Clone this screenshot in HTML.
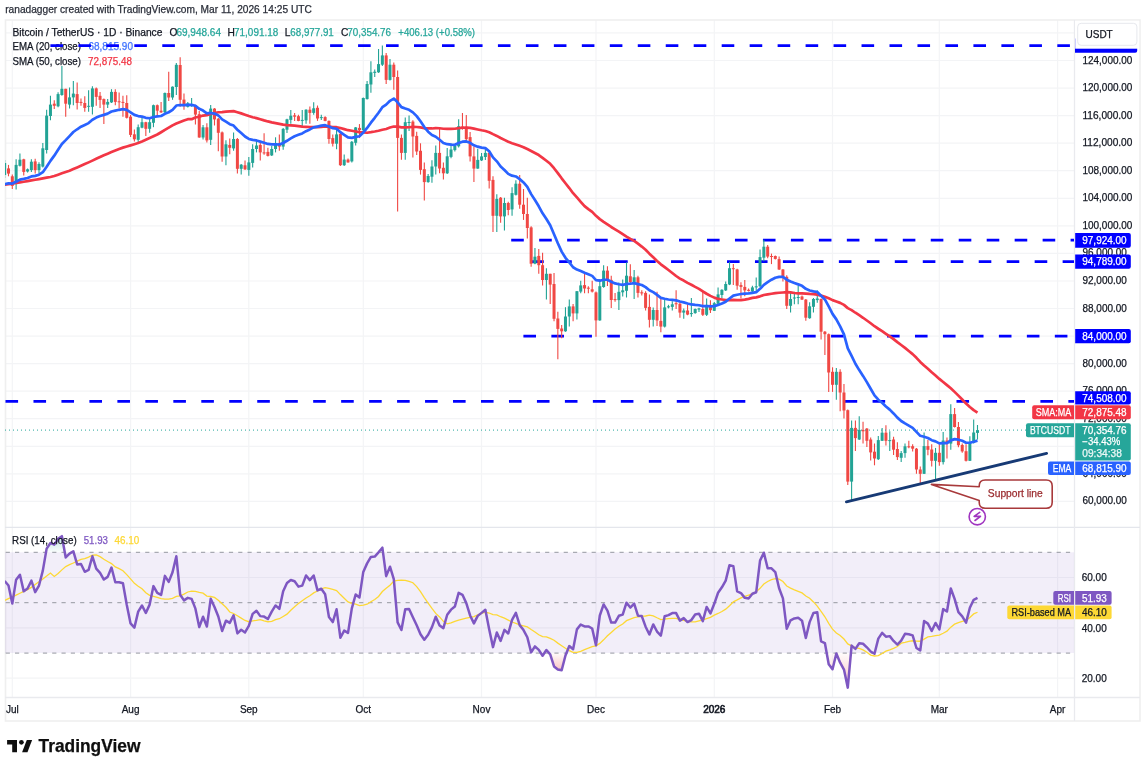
<!DOCTYPE html><html><head><meta charset="utf-8"><style>
html,body{margin:0;padding:0;background:#fff;}
body{width:1148px;height:772px;overflow:hidden;position:relative;font-family:"Liberation Sans", sans-serif;}
svg text{font-family:"Liberation Sans", sans-serif;}
</style></head><body>
<svg width="1148" height="772" viewBox="0 0 1148 772" style="position:absolute;left:0;top:0;will-change:transform">
<defs>
<clipPath id="mainclip"><rect x="5" y="20" width="1069" height="507"/></clipPath>
<clipPath id="rsiclip"><rect x="5" y="528" width="1069" height="169"/></clipPath>
<linearGradient id="osg" x1="0" y1="0" x2="0" y2="1"><stop offset="0" stop-color="#ef5350" stop-opacity="0.02"/><stop offset="1" stop-color="#ef5350" stop-opacity="0.35"/></linearGradient>
<linearGradient id="obg" x1="0" y1="1" x2="0" y2="0"><stop offset="0" stop-color="#26a69a" stop-opacity="0.02"/><stop offset="1" stop-color="#26a69a" stop-opacity="0.3"/></linearGradient>
</defs>
<rect width="1148" height="772" fill="#fff"/>

<text x="5.2" y="12.9" font-size="10.4" fill="#2a2e39" stroke="#2a2e39" stroke-width="0.25" textLength="306.6" lengthAdjust="spacingAndGlyphs">ranadagger created with TradingView.com, Mar 11, 2026 14:25 UTC</text>
<line x1="12.3" y1="20" x2="12.3" y2="697" stroke="#f3f4f6" stroke-width="1.2"/>
<line x1="130.6" y1="20" x2="130.6" y2="697" stroke="#f3f4f6" stroke-width="1.2"/>
<line x1="248.8" y1="20" x2="248.8" y2="697" stroke="#f3f4f6" stroke-width="1.2"/>
<line x1="363.3" y1="20" x2="363.3" y2="697" stroke="#f3f4f6" stroke-width="1.2"/>
<line x1="481.5" y1="20" x2="481.5" y2="697" stroke="#f3f4f6" stroke-width="1.2"/>
<line x1="596.0" y1="20" x2="596.0" y2="697" stroke="#f3f4f6" stroke-width="1.2"/>
<line x1="714.3" y1="20" x2="714.3" y2="697" stroke="#f3f4f6" stroke-width="1.2"/>
<line x1="832.5" y1="20" x2="832.5" y2="697" stroke="#f3f4f6" stroke-width="1.2"/>
<line x1="939.3" y1="20" x2="939.3" y2="697" stroke="#f3f4f6" stroke-width="1.2"/>
<line x1="1057.6" y1="20" x2="1057.6" y2="697" stroke="#f3f4f6" stroke-width="1.2"/>
<line x1="5" y1="501.4" x2="1074" y2="501.4" stroke="#f3f4f6" stroke-width="1.2"/>
<line x1="5" y1="473.8" x2="1074" y2="473.8" stroke="#f3f4f6" stroke-width="1.2"/>
<line x1="5" y1="446.3" x2="1074" y2="446.3" stroke="#f3f4f6" stroke-width="1.2"/>
<line x1="5" y1="418.7" x2="1074" y2="418.7" stroke="#f3f4f6" stroke-width="1.2"/>
<line x1="5" y1="391.2" x2="1074" y2="391.2" stroke="#f3f4f6" stroke-width="1.2"/>
<line x1="5" y1="363.6" x2="1074" y2="363.6" stroke="#f3f4f6" stroke-width="1.2"/>
<line x1="5" y1="336.1" x2="1074" y2="336.1" stroke="#f3f4f6" stroke-width="1.2"/>
<line x1="5" y1="308.5" x2="1074" y2="308.5" stroke="#f3f4f6" stroke-width="1.2"/>
<line x1="5" y1="281.0" x2="1074" y2="281.0" stroke="#f3f4f6" stroke-width="1.2"/>
<line x1="5" y1="253.4" x2="1074" y2="253.4" stroke="#f3f4f6" stroke-width="1.2"/>
<line x1="5" y1="225.8" x2="1074" y2="225.8" stroke="#f3f4f6" stroke-width="1.2"/>
<line x1="5" y1="198.3" x2="1074" y2="198.3" stroke="#f3f4f6" stroke-width="1.2"/>
<line x1="5" y1="170.7" x2="1074" y2="170.7" stroke="#f3f4f6" stroke-width="1.2"/>
<line x1="5" y1="143.2" x2="1074" y2="143.2" stroke="#f3f4f6" stroke-width="1.2"/>
<line x1="5" y1="115.6" x2="1074" y2="115.6" stroke="#f3f4f6" stroke-width="1.2"/>
<line x1="5" y1="88.1" x2="1074" y2="88.1" stroke="#f3f4f6" stroke-width="1.2"/>
<line x1="5" y1="60.5" x2="1074" y2="60.5" stroke="#f3f4f6" stroke-width="1.2"/>
<line x1="5" y1="32.9" x2="1074" y2="32.9" stroke="#f3f4f6" stroke-width="1.2"/>
<line x1="5" y1="678.2" x2="1074" y2="678.2" stroke="#f3f4f6" stroke-width="1.2"/>
<line x1="5" y1="627.9" x2="1074" y2="627.9" stroke="#f3f4f6" stroke-width="1.2"/>
<line x1="5" y1="577.5" x2="1074" y2="577.5" stroke="#f3f4f6" stroke-width="1.2"/>
<rect x="5.5" y="20" width="1134.5" height="701" fill="none" stroke="#efefef" stroke-width="1.6"/>
<line x1="5" y1="527.4" x2="1140" y2="527.4" stroke="#e4e6ec" stroke-width="1.4"/>
<line x1="5" y1="697.5" x2="1140" y2="697.5" stroke="#e9eaee" stroke-width="1.4"/>
<line x1="1074.5" y1="20" x2="1074.5" y2="721" stroke="#e9eaee" stroke-width="1.3"/>
<text x="12.5" y="35.8" font-size="10.4" fill="#131722" stroke="#131722" stroke-width="0.25" textLength="149.9" lengthAdjust="spacingAndGlyphs">Bitcoin / TetherUS · 1D · Binance</text>
<text x="12.5" y="50.2" font-size="10.2" fill="#131722" stroke="#131722" stroke-width="0.25" textLength="68.4" lengthAdjust="spacingAndGlyphs">EMA (20, close)</text>
<text x="88.4" y="50.2" font-size="10.1" fill="#2962ff" stroke="#2962ff" stroke-width="0.25" textLength="44.6" lengthAdjust="spacingAndGlyphs" fill-opacity="0.8">68,815.90</text>
<text x="12.5" y="64.6" font-size="10.2" fill="#131722" stroke="#131722" stroke-width="0.25" textLength="68.5" lengthAdjust="spacingAndGlyphs">SMA (50, close)</text>
<text x="88.0" y="64.6" font-size="10.1" fill="#f23645" stroke="#f23645" stroke-width="0.25" textLength="43.9" lengthAdjust="spacingAndGlyphs">72,875.48</text>
<text x="169.5" y="35.8" font-size="10.2" fill="#131722" stroke="#131722" stroke-width="0.25">O</text>
<text x="176.4" y="35.8" font-size="10.1" fill="#26a69a" stroke="#26a69a" stroke-width="0.25" textLength="44.6" lengthAdjust="spacingAndGlyphs">69,948.64</text>
<text x="227.6" y="35.8" font-size="10.2" fill="#131722" stroke="#131722" stroke-width="0.25">H</text>
<text x="234.1" y="35.8" font-size="10.1" fill="#26a69a" stroke="#26a69a" stroke-width="0.25" textLength="44.1" lengthAdjust="spacingAndGlyphs">71,091.18</text>
<text x="284.7" y="35.8" font-size="10.2" fill="#131722" stroke="#131722" stroke-width="0.25">L</text>
<text x="290.3" y="35.8" font-size="10.1" fill="#26a69a" stroke="#26a69a" stroke-width="0.25" textLength="43.5" lengthAdjust="spacingAndGlyphs">68,977.91</text>
<text x="340.9" y="35.8" font-size="10.2" fill="#131722" stroke="#131722" stroke-width="0.25">C</text>
<text x="347.2" y="35.8" font-size="10.1" fill="#26a69a" stroke="#26a69a" stroke-width="0.25" textLength="43.9" lengthAdjust="spacingAndGlyphs">70,354.76</text>
<text x="398.3" y="35.8" font-size="10.1" fill="#26a69a" stroke="#26a69a" stroke-width="0.25" textLength="76.7" lengthAdjust="spacingAndGlyphs">+406.13 (+0.58%)</text>
<g clip-path="url(#mainclip)">
<line x1="50.4" y1="45.6" x2="1074" y2="45.6" stroke="#0000ff" stroke-width="2.8" stroke-dasharray="12.6 15.37"/>
<line x1="511.2" y1="240.1" x2="1074" y2="240.1" stroke="#0000ff" stroke-width="2.8" stroke-dasharray="12.6 15.37"/>
<line x1="531.2" y1="261.7" x2="1074" y2="261.7" stroke="#0000ff" stroke-width="2.8" stroke-dasharray="12.6 15.37"/>
<line x1="523.4" y1="336.1" x2="1074" y2="336.1" stroke="#0000ff" stroke-width="2.8" stroke-dasharray="12.6 15.37"/>
<line x1="5.5" y1="401.4" x2="1074" y2="401.4" stroke="#0000ff" stroke-width="2.8" stroke-dasharray="12.6 15.37"/>
<line x1="4.67" y1="160" x2="4.67" y2="178" stroke="#22a395" stroke-width="1.1"/>
<rect x="3.17" y="163" width="3" height="12.0" fill="#22a395"/>
<line x1="8.49" y1="164.9" x2="8.49" y2="176.3" stroke="#f04844" stroke-width="1.1"/>
<rect x="6.99" y="168.4" width="3" height="5.2" fill="#f04844"/>
<line x1="12.30" y1="174.5" x2="12.30" y2="189" stroke="#f04844" stroke-width="1.1"/>
<rect x="10.80" y="176.3" width="3" height="9.6" fill="#f04844"/>
<line x1="16.12" y1="159.3" x2="16.12" y2="189.4" stroke="#22a395" stroke-width="1.1"/>
<rect x="14.62" y="164.9" width="3" height="19.2" fill="#22a395"/>
<line x1="19.93" y1="153.5" x2="19.93" y2="166.6" stroke="#22a395" stroke-width="1.1"/>
<rect x="18.43" y="159.7" width="3" height="6.1" fill="#22a395"/>
<line x1="23.75" y1="158.8" x2="23.75" y2="175.4" stroke="#f04844" stroke-width="1.1"/>
<rect x="22.25" y="159.3" width="3" height="12.6" fill="#f04844"/>
<line x1="27.56" y1="168.5" x2="27.56" y2="172.5" stroke="#22a395" stroke-width="1.1"/>
<rect x="26.06" y="169.3" width="3" height="2.2" fill="#22a395"/>
<line x1="31.38" y1="159.3" x2="31.38" y2="171.9" stroke="#22a395" stroke-width="1.1"/>
<rect x="29.88" y="161.7" width="3" height="8.4" fill="#22a395"/>
<line x1="35.19" y1="158.8" x2="35.19" y2="173.6" stroke="#f04844" stroke-width="1.1"/>
<rect x="33.69" y="161.4" width="3" height="8.7" fill="#f04844"/>
<line x1="39.00" y1="162.3" x2="39.00" y2="173.6" stroke="#22a395" stroke-width="1.1"/>
<rect x="37.50" y="164" width="3" height="6.1" fill="#22a395"/>
<line x1="42.82" y1="143" x2="42.82" y2="167.5" stroke="#22a395" stroke-width="1.1"/>
<rect x="41.32" y="148.3" width="3" height="18.3" fill="#22a395"/>
<line x1="46.64" y1="109.8" x2="46.64" y2="153.5" stroke="#22a395" stroke-width="1.1"/>
<rect x="45.14" y="115.6" width="3" height="34.4" fill="#22a395"/>
<line x1="50.45" y1="95.8" x2="50.45" y2="120.3" stroke="#22a395" stroke-width="1.1"/>
<rect x="48.95" y="104.6" width="3" height="11.4" fill="#22a395"/>
<line x1="54.27" y1="100.2" x2="54.27" y2="109" stroke="#f04844" stroke-width="1.1"/>
<rect x="52.77" y="103.7" width="3" height="2.1" fill="#f04844"/>
<line x1="58.08" y1="92.3" x2="58.08" y2="107.2" stroke="#22a395" stroke-width="1.1"/>
<rect x="56.58" y="94.1" width="3" height="12.2" fill="#22a395"/>
<line x1="61.89" y1="66" x2="61.89" y2="95.8" stroke="#22a395" stroke-width="1.1"/>
<rect x="60.39" y="88.8" width="3" height="6.2" fill="#22a395"/>
<line x1="65.71" y1="88.8" x2="65.71" y2="116.8" stroke="#f04844" stroke-width="1.1"/>
<rect x="64.21" y="88.8" width="3" height="14.9" fill="#f04844"/>
<line x1="69.53" y1="87.5" x2="69.53" y2="108.5" stroke="#22a395" stroke-width="1.1"/>
<rect x="68.03" y="97.4" width="3" height="7.2" fill="#22a395"/>
<line x1="73.34" y1="80.9" x2="73.34" y2="105.2" stroke="#22a395" stroke-width="1.1"/>
<rect x="71.84" y="93.6" width="3" height="3.8" fill="#22a395"/>
<line x1="77.16" y1="82.6" x2="77.16" y2="109.6" stroke="#f04844" stroke-width="1.1"/>
<rect x="75.66" y="94.1" width="3" height="8.9" fill="#f04844"/>
<line x1="80.97" y1="98.5" x2="80.97" y2="105.7" stroke="#f04844" stroke-width="1.1"/>
<rect x="79.47" y="101.9" width="3" height="1.0" fill="#f04844"/>
<line x1="84.78" y1="96.3" x2="84.78" y2="111.8" stroke="#f04844" stroke-width="1.1"/>
<rect x="83.28" y="103" width="3" height="4.9" fill="#f04844"/>
<line x1="88.60" y1="90.3" x2="88.60" y2="111.8" stroke="#22a395" stroke-width="1.1"/>
<rect x="87.10" y="105.8" width="3" height="1.0" fill="#22a395"/>
<line x1="92.41" y1="86.2" x2="92.41" y2="114.5" stroke="#22a395" stroke-width="1.1"/>
<rect x="90.91" y="88.4" width="3" height="18.4" fill="#22a395"/>
<line x1="96.23" y1="87.5" x2="96.23" y2="105.7" stroke="#f04844" stroke-width="1.1"/>
<rect x="94.73" y="88.4" width="3" height="8.5" fill="#f04844"/>
<line x1="100.05" y1="91.9" x2="100.05" y2="107.9" stroke="#f04844" stroke-width="1.1"/>
<rect x="98.55" y="95.8" width="3" height="4.1" fill="#f04844"/>
<line x1="103.86" y1="98.5" x2="103.86" y2="123.9" stroke="#f04844" stroke-width="1.1"/>
<rect x="102.36" y="99.1" width="3" height="5.5" fill="#f04844"/>
<line x1="107.67" y1="99.1" x2="107.67" y2="107.9" stroke="#22a395" stroke-width="1.1"/>
<rect x="106.17" y="101.9" width="3" height="2.7" fill="#22a395"/>
<line x1="111.49" y1="89.2" x2="111.49" y2="103" stroke="#22a395" stroke-width="1.1"/>
<rect x="109.99" y="91.9" width="3" height="10.5" fill="#22a395"/>
<line x1="115.30" y1="89.2" x2="115.30" y2="105.2" stroke="#f04844" stroke-width="1.1"/>
<rect x="113.80" y="91.9" width="3" height="10.0" fill="#f04844"/>
<line x1="119.12" y1="92.5" x2="119.12" y2="108.5" stroke="#f04844" stroke-width="1.1"/>
<rect x="117.62" y="101.3" width="3" height="1.0" fill="#f04844"/>
<line x1="122.94" y1="95.8" x2="122.94" y2="116.7" stroke="#f04844" stroke-width="1.1"/>
<rect x="121.44" y="101.9" width="3" height="1.0" fill="#f04844"/>
<line x1="126.75" y1="95.2" x2="126.75" y2="118.4" stroke="#f04844" stroke-width="1.1"/>
<rect x="125.25" y="103" width="3" height="14.8" fill="#f04844"/>
<line x1="130.56" y1="115" x2="130.56" y2="137.1" stroke="#f04844" stroke-width="1.1"/>
<rect x="129.06" y="116.7" width="3" height="18.2" fill="#f04844"/>
<line x1="134.38" y1="129.4" x2="134.38" y2="141.5" stroke="#f04844" stroke-width="1.1"/>
<rect x="132.88" y="134.3" width="3" height="5.0" fill="#f04844"/>
<line x1="138.19" y1="124.4" x2="138.19" y2="142.6" stroke="#22a395" stroke-width="1.1"/>
<rect x="136.69" y="127.2" width="3" height="12.6" fill="#22a395"/>
<line x1="142.01" y1="117.3" x2="142.01" y2="128.2" stroke="#22a395" stroke-width="1.1"/>
<rect x="140.51" y="122.2" width="3" height="5.5" fill="#22a395"/>
<line x1="145.83" y1="121.7" x2="145.83" y2="136" stroke="#f04844" stroke-width="1.1"/>
<rect x="144.33" y="122.2" width="3" height="6.6" fill="#f04844"/>
<line x1="149.64" y1="117.8" x2="149.64" y2="132.7" stroke="#22a395" stroke-width="1.1"/>
<rect x="148.14" y="122.2" width="3" height="6.6" fill="#22a395"/>
<line x1="153.46" y1="104.6" x2="153.46" y2="127.2" stroke="#22a395" stroke-width="1.1"/>
<rect x="151.96" y="105.2" width="3" height="17.6" fill="#22a395"/>
<line x1="157.27" y1="104.6" x2="157.27" y2="116.2" stroke="#f04844" stroke-width="1.1"/>
<rect x="155.77" y="105.2" width="3" height="5.5" fill="#f04844"/>
<line x1="161.09" y1="101.9" x2="161.09" y2="112.9" stroke="#f04844" stroke-width="1.1"/>
<rect x="159.59" y="110.7" width="3" height="1.6" fill="#f04844"/>
<line x1="164.90" y1="92.5" x2="164.90" y2="113.2" stroke="#22a395" stroke-width="1.1"/>
<rect x="163.40" y="93" width="3" height="19.3" fill="#22a395"/>
<line x1="168.72" y1="71.8" x2="168.72" y2="101" stroke="#f04844" stroke-width="1.1"/>
<rect x="167.22" y="93" width="3" height="4.5" fill="#f04844"/>
<line x1="172.53" y1="86.4" x2="172.53" y2="99.8" stroke="#22a395" stroke-width="1.1"/>
<rect x="171.03" y="86.7" width="3" height="10.8" fill="#22a395"/>
<line x1="176.34" y1="63.1" x2="176.34" y2="95.1" stroke="#22a395" stroke-width="1.1"/>
<rect x="174.84" y="64.8" width="3" height="22.2" fill="#22a395"/>
<line x1="180.16" y1="57.2" x2="180.16" y2="106.8" stroke="#f04844" stroke-width="1.1"/>
<rect x="178.66" y="65" width="3" height="34.8" fill="#f04844"/>
<line x1="183.98" y1="93.4" x2="183.98" y2="109.7" stroke="#f04844" stroke-width="1.1"/>
<rect x="182.48" y="99.6" width="3" height="6.6" fill="#f04844"/>
<line x1="187.79" y1="102.1" x2="187.79" y2="107.4" stroke="#22a395" stroke-width="1.1"/>
<rect x="186.29" y="103.3" width="3" height="3.5" fill="#22a395"/>
<line x1="191.61" y1="98" x2="191.61" y2="106.8" stroke="#22a395" stroke-width="1.1"/>
<rect x="190.11" y="104.4" width="3" height="1.8" fill="#22a395"/>
<line x1="195.42" y1="104.7" x2="195.42" y2="124.6" stroke="#f04844" stroke-width="1.1"/>
<rect x="193.92" y="105.2" width="3" height="9.4" fill="#f04844"/>
<line x1="199.24" y1="111" x2="199.24" y2="137.7" stroke="#f04844" stroke-width="1.1"/>
<rect x="197.74" y="114.2" width="3" height="23.3" fill="#f04844"/>
<line x1="203.05" y1="124.9" x2="203.05" y2="139.6" stroke="#22a395" stroke-width="1.1"/>
<rect x="201.55" y="127.3" width="3" height="10.2" fill="#22a395"/>
<line x1="206.87" y1="123.2" x2="206.87" y2="142.5" stroke="#f04844" stroke-width="1.1"/>
<rect x="205.37" y="127.3" width="3" height="13.1" fill="#f04844"/>
<line x1="210.68" y1="105.1" x2="210.68" y2="144.9" stroke="#22a395" stroke-width="1.1"/>
<rect x="209.18" y="108.6" width="3" height="31.2" fill="#22a395"/>
<line x1="214.50" y1="108.1" x2="214.50" y2="125.5" stroke="#f04844" stroke-width="1.1"/>
<rect x="213.00" y="108.6" width="3" height="10.8" fill="#f04844"/>
<line x1="218.31" y1="118" x2="218.31" y2="151.3" stroke="#f04844" stroke-width="1.1"/>
<rect x="216.81" y="118.8" width="3" height="14.0" fill="#f04844"/>
<line x1="222.12" y1="131.5" x2="222.12" y2="161.8" stroke="#f04844" stroke-width="1.1"/>
<rect x="220.62" y="132.4" width="3" height="24.1" fill="#f04844"/>
<line x1="225.94" y1="140.2" x2="225.94" y2="165.3" stroke="#22a395" stroke-width="1.1"/>
<rect x="224.44" y="144.3" width="3" height="12.2" fill="#22a395"/>
<line x1="229.75" y1="138.5" x2="229.75" y2="154.2" stroke="#f04844" stroke-width="1.1"/>
<rect x="228.25" y="144.9" width="3" height="2.9" fill="#f04844"/>
<line x1="233.57" y1="132.6" x2="233.57" y2="150.7" stroke="#22a395" stroke-width="1.1"/>
<rect x="232.07" y="139" width="3" height="9.4" fill="#22a395"/>
<line x1="237.39" y1="137.9" x2="237.39" y2="173.4" stroke="#f04844" stroke-width="1.1"/>
<rect x="235.89" y="139" width="3" height="29.8" fill="#f04844"/>
<line x1="241.20" y1="164.1" x2="241.20" y2="174.6" stroke="#22a395" stroke-width="1.1"/>
<rect x="239.70" y="164.7" width="3" height="4.1" fill="#22a395"/>
<line x1="245.02" y1="160.6" x2="245.02" y2="169.9" stroke="#f04844" stroke-width="1.1"/>
<rect x="243.52" y="165.3" width="3" height="4.0" fill="#f04844"/>
<line x1="248.83" y1="157.1" x2="248.83" y2="175.8" stroke="#22a395" stroke-width="1.1"/>
<rect x="247.33" y="162.4" width="3" height="7.5" fill="#22a395"/>
<line x1="252.65" y1="144.3" x2="252.65" y2="167.6" stroke="#22a395" stroke-width="1.1"/>
<rect x="251.15" y="149" width="3" height="13.9" fill="#22a395"/>
<line x1="256.46" y1="139.6" x2="256.46" y2="152.4" stroke="#22a395" stroke-width="1.1"/>
<rect x="254.96" y="145.5" width="3" height="3.5" fill="#22a395"/>
<line x1="260.27" y1="142" x2="260.27" y2="160.6" stroke="#f04844" stroke-width="1.1"/>
<rect x="258.77" y="144.9" width="3" height="7.5" fill="#f04844"/>
<line x1="264.09" y1="133.2" x2="264.09" y2="154.8" stroke="#f04844" stroke-width="1.1"/>
<rect x="262.59" y="152.4" width="3" height="1.0" fill="#f04844"/>
<line x1="267.90" y1="147.8" x2="267.90" y2="156.5" stroke="#f04844" stroke-width="1.1"/>
<rect x="266.40" y="151.9" width="3" height="4.0" fill="#f04844"/>
<line x1="271.72" y1="146" x2="271.72" y2="155.9" stroke="#22a395" stroke-width="1.1"/>
<rect x="270.22" y="149" width="3" height="6.4" fill="#22a395"/>
<line x1="275.54" y1="137.3" x2="275.54" y2="152.4" stroke="#22a395" stroke-width="1.1"/>
<rect x="274.04" y="143.1" width="3" height="5.9" fill="#22a395"/>
<line x1="279.35" y1="134.4" x2="279.35" y2="150.7" stroke="#f04844" stroke-width="1.1"/>
<rect x="277.85" y="143.1" width="3" height="3.5" fill="#f04844"/>
<line x1="283.17" y1="127.9" x2="283.17" y2="149.8" stroke="#22a395" stroke-width="1.1"/>
<rect x="281.67" y="128.9" width="3" height="17.7" fill="#22a395"/>
<line x1="286.98" y1="118.8" x2="286.98" y2="133" stroke="#22a395" stroke-width="1.1"/>
<rect x="285.48" y="119.3" width="3" height="10.4" fill="#22a395"/>
<line x1="290.80" y1="110.1" x2="290.80" y2="123.7" stroke="#22a395" stroke-width="1.1"/>
<rect x="289.30" y="115.7" width="3" height="4.2" fill="#22a395"/>
<line x1="294.61" y1="112.9" x2="294.61" y2="120.9" stroke="#f04844" stroke-width="1.1"/>
<rect x="293.11" y="115.3" width="3" height="1.4" fill="#f04844"/>
<line x1="298.43" y1="114.8" x2="298.43" y2="121.3" stroke="#f04844" stroke-width="1.1"/>
<rect x="296.93" y="116.2" width="3" height="4.7" fill="#f04844"/>
<line x1="302.24" y1="110.1" x2="302.24" y2="126.5" stroke="#22a395" stroke-width="1.1"/>
<rect x="300.74" y="119.9" width="3" height="1.0" fill="#22a395"/>
<line x1="306.06" y1="109.2" x2="306.06" y2="123.7" stroke="#22a395" stroke-width="1.1"/>
<rect x="304.56" y="109.7" width="3" height="10.7" fill="#22a395"/>
<line x1="309.87" y1="106.4" x2="309.87" y2="123.7" stroke="#f04844" stroke-width="1.1"/>
<rect x="308.37" y="109.7" width="3" height="3.2" fill="#f04844"/>
<line x1="313.69" y1="102.2" x2="313.69" y2="114.8" stroke="#22a395" stroke-width="1.1"/>
<rect x="312.19" y="108.3" width="3" height="4.6" fill="#22a395"/>
<line x1="317.50" y1="105.5" x2="317.50" y2="120.9" stroke="#f04844" stroke-width="1.1"/>
<rect x="316.00" y="107.8" width="3" height="10.7" fill="#f04844"/>
<line x1="321.31" y1="114.8" x2="321.31" y2="119.9" stroke="#22a395" stroke-width="1.1"/>
<rect x="319.81" y="117.1" width="3" height="1.0" fill="#22a395"/>
<line x1="325.13" y1="116.2" x2="325.13" y2="121.3" stroke="#f04844" stroke-width="1.1"/>
<rect x="323.63" y="117.1" width="3" height="3.8" fill="#f04844"/>
<line x1="328.94" y1="120.4" x2="328.94" y2="143.7" stroke="#f04844" stroke-width="1.1"/>
<rect x="327.44" y="120.9" width="3" height="18.1" fill="#f04844"/>
<line x1="332.76" y1="134.4" x2="332.76" y2="146.5" stroke="#f04844" stroke-width="1.1"/>
<rect x="331.26" y="138.1" width="3" height="5.6" fill="#f04844"/>
<line x1="336.57" y1="129.7" x2="336.57" y2="149.3" stroke="#22a395" stroke-width="1.1"/>
<rect x="335.07" y="134.4" width="3" height="9.3" fill="#22a395"/>
<line x1="340.39" y1="133" x2="340.39" y2="166.1" stroke="#f04844" stroke-width="1.1"/>
<rect x="338.89" y="133.9" width="3" height="31.3" fill="#f04844"/>
<line x1="344.20" y1="154.4" x2="344.20" y2="166.1" stroke="#22a395" stroke-width="1.1"/>
<rect x="342.70" y="159.6" width="3" height="5.6" fill="#22a395"/>
<line x1="348.02" y1="158.6" x2="348.02" y2="162.8" stroke="#f04844" stroke-width="1.1"/>
<rect x="346.52" y="159.6" width="3" height="2.8" fill="#f04844"/>
<line x1="351.83" y1="140.9" x2="351.83" y2="162.4" stroke="#22a395" stroke-width="1.1"/>
<rect x="350.33" y="141.8" width="3" height="19.6" fill="#22a395"/>
<line x1="355.65" y1="126.9" x2="355.65" y2="145.6" stroke="#22a395" stroke-width="1.1"/>
<rect x="354.15" y="127.4" width="3" height="15.4" fill="#22a395"/>
<line x1="359.47" y1="124.1" x2="359.47" y2="138.1" stroke="#f04844" stroke-width="1.1"/>
<rect x="357.97" y="127.9" width="3" height="2.3" fill="#f04844"/>
<line x1="363.28" y1="97.4" x2="363.28" y2="132" stroke="#22a395" stroke-width="1.1"/>
<rect x="361.78" y="98" width="3" height="32.2" fill="#22a395"/>
<line x1="367.10" y1="81" x2="367.10" y2="99.5" stroke="#22a395" stroke-width="1.1"/>
<rect x="365.60" y="84" width="3" height="15.1" fill="#22a395"/>
<line x1="370.91" y1="61.2" x2="370.91" y2="92.7" stroke="#22a395" stroke-width="1.1"/>
<rect x="369.41" y="72.3" width="3" height="12.2" fill="#22a395"/>
<line x1="374.73" y1="69.4" x2="374.73" y2="77" stroke="#22a395" stroke-width="1.1"/>
<rect x="373.23" y="71.7" width="3" height="1.2" fill="#22a395"/>
<line x1="378.54" y1="49" x2="378.54" y2="72.9" stroke="#22a395" stroke-width="1.1"/>
<rect x="377.04" y="64.1" width="3" height="8.2" fill="#22a395"/>
<line x1="382.36" y1="45.5" x2="382.36" y2="65.9" stroke="#22a395" stroke-width="1.1"/>
<rect x="380.86" y="55.4" width="3" height="9.3" fill="#22a395"/>
<line x1="386.17" y1="53.1" x2="386.17" y2="84" stroke="#f04844" stroke-width="1.1"/>
<rect x="384.67" y="55.4" width="3" height="24.5" fill="#f04844"/>
<line x1="389.99" y1="58.9" x2="389.99" y2="80.5" stroke="#22a395" stroke-width="1.1"/>
<rect x="388.49" y="64.7" width="3" height="15.2" fill="#22a395"/>
<line x1="393.80" y1="62.4" x2="393.80" y2="89.8" stroke="#f04844" stroke-width="1.1"/>
<rect x="392.30" y="64.7" width="3" height="12.3" fill="#f04844"/>
<line x1="397.62" y1="70.6" x2="397.62" y2="211.4" stroke="#f04844" stroke-width="1.1"/>
<rect x="396.12" y="77" width="3" height="60.9" fill="#f04844"/>
<line x1="401.43" y1="134.5" x2="401.43" y2="159.7" stroke="#f04844" stroke-width="1.1"/>
<rect x="399.93" y="137.9" width="3" height="15.0" fill="#f04844"/>
<line x1="405.25" y1="117.4" x2="405.25" y2="159.7" stroke="#22a395" stroke-width="1.1"/>
<rect x="403.75" y="122.2" width="3" height="30.7" fill="#22a395"/>
<line x1="409.06" y1="115.4" x2="409.06" y2="131.1" stroke="#22a395" stroke-width="1.1"/>
<rect x="407.56" y="122" width="3" height="1.0" fill="#22a395"/>
<line x1="412.88" y1="120.2" x2="412.88" y2="157.6" stroke="#f04844" stroke-width="1.1"/>
<rect x="411.38" y="121.6" width="3" height="14.9" fill="#f04844"/>
<line x1="416.69" y1="131.8" x2="416.69" y2="154.9" stroke="#f04844" stroke-width="1.1"/>
<rect x="415.19" y="135.9" width="3" height="15.6" fill="#f04844"/>
<line x1="420.50" y1="143.3" x2="420.50" y2="174.6" stroke="#f04844" stroke-width="1.1"/>
<rect x="419.00" y="150.8" width="3" height="19.1" fill="#f04844"/>
<line x1="424.32" y1="162.4" x2="424.32" y2="200.5" stroke="#f04844" stroke-width="1.1"/>
<rect x="422.82" y="169.2" width="3" height="12.9" fill="#f04844"/>
<line x1="428.13" y1="173.9" x2="428.13" y2="182.8" stroke="#22a395" stroke-width="1.1"/>
<rect x="426.63" y="176" width="3" height="6.1" fill="#22a395"/>
<line x1="431.95" y1="160.3" x2="431.95" y2="182.8" stroke="#22a395" stroke-width="1.1"/>
<rect x="430.45" y="166.5" width="3" height="10.2" fill="#22a395"/>
<line x1="435.76" y1="145.4" x2="435.76" y2="174.6" stroke="#22a395" stroke-width="1.1"/>
<rect x="434.26" y="152.9" width="3" height="13.6" fill="#22a395"/>
<line x1="439.58" y1="129" x2="439.58" y2="173.3" stroke="#f04844" stroke-width="1.1"/>
<rect x="438.08" y="152.9" width="3" height="15.6" fill="#f04844"/>
<line x1="443.39" y1="162.4" x2="443.39" y2="179.4" stroke="#f04844" stroke-width="1.1"/>
<rect x="441.89" y="167.8" width="3" height="5.5" fill="#f04844"/>
<line x1="447.21" y1="148.1" x2="447.21" y2="174" stroke="#22a395" stroke-width="1.1"/>
<rect x="445.71" y="156.3" width="3" height="17.0" fill="#22a395"/>
<line x1="451.02" y1="143.3" x2="451.02" y2="158.3" stroke="#22a395" stroke-width="1.1"/>
<rect x="449.52" y="149.5" width="3" height="7.4" fill="#22a395"/>
<line x1="454.84" y1="144.7" x2="454.84" y2="151.5" stroke="#22a395" stroke-width="1.1"/>
<rect x="453.34" y="145.4" width="3" height="4.7" fill="#22a395"/>
<line x1="458.66" y1="119.3" x2="458.66" y2="147.5" stroke="#22a395" stroke-width="1.1"/>
<rect x="457.16" y="126.2" width="3" height="20.1" fill="#22a395"/>
<line x1="462.47" y1="113" x2="462.47" y2="129.7" stroke="#f04844" stroke-width="1.1"/>
<rect x="460.97" y="126.5" width="3" height="2.2" fill="#f04844"/>
<line x1="466.29" y1="114.9" x2="466.29" y2="141.9" stroke="#f04844" stroke-width="1.1"/>
<rect x="464.79" y="126.8" width="3" height="12.4" fill="#f04844"/>
<line x1="470.10" y1="131.9" x2="470.10" y2="161.6" stroke="#f04844" stroke-width="1.1"/>
<rect x="468.60" y="137.1" width="3" height="19.3" fill="#f04844"/>
<line x1="473.92" y1="146.5" x2="473.92" y2="182" stroke="#f04844" stroke-width="1.1"/>
<rect x="472.42" y="156.4" width="3" height="12.2" fill="#f04844"/>
<line x1="477.73" y1="148.8" x2="477.73" y2="168.8" stroke="#22a395" stroke-width="1.1"/>
<rect x="476.23" y="159.9" width="3" height="8.7" fill="#22a395"/>
<line x1="481.55" y1="152.9" x2="481.55" y2="161" stroke="#22a395" stroke-width="1.1"/>
<rect x="480.05" y="156.4" width="3" height="4.0" fill="#22a395"/>
<line x1="485.36" y1="148.2" x2="485.36" y2="159.9" stroke="#22a395" stroke-width="1.1"/>
<rect x="483.86" y="152.9" width="3" height="4.1" fill="#22a395"/>
<line x1="489.18" y1="152.3" x2="489.18" y2="188.4" stroke="#f04844" stroke-width="1.1"/>
<rect x="487.68" y="152.9" width="3" height="27.9" fill="#f04844"/>
<line x1="492.99" y1="176.2" x2="492.99" y2="232.1" stroke="#f04844" stroke-width="1.1"/>
<rect x="491.49" y="179.9" width="3" height="35.9" fill="#f04844"/>
<line x1="496.81" y1="194.2" x2="496.81" y2="232.1" stroke="#22a395" stroke-width="1.1"/>
<rect x="495.31" y="198.9" width="3" height="16.9" fill="#22a395"/>
<line x1="500.62" y1="197.1" x2="500.62" y2="222.8" stroke="#f04844" stroke-width="1.1"/>
<rect x="499.12" y="197.7" width="3" height="18.7" fill="#f04844"/>
<line x1="504.44" y1="197.7" x2="504.44" y2="230.4" stroke="#22a395" stroke-width="1.1"/>
<rect x="502.94" y="203" width="3" height="13.4" fill="#22a395"/>
<line x1="508.25" y1="201.8" x2="508.25" y2="215.2" stroke="#f04844" stroke-width="1.1"/>
<rect x="506.75" y="203" width="3" height="7.0" fill="#f04844"/>
<line x1="512.06" y1="187.2" x2="512.06" y2="215.8" stroke="#22a395" stroke-width="1.1"/>
<rect x="510.56" y="193.1" width="3" height="16.3" fill="#22a395"/>
<line x1="515.88" y1="180.2" x2="515.88" y2="195.4" stroke="#22a395" stroke-width="1.1"/>
<rect x="514.38" y="183.7" width="3" height="11.1" fill="#22a395"/>
<line x1="519.69" y1="175" x2="519.69" y2="208.8" stroke="#f04844" stroke-width="1.1"/>
<rect x="518.19" y="183.7" width="3" height="21.0" fill="#f04844"/>
<line x1="523.51" y1="189" x2="523.51" y2="219.9" stroke="#f04844" stroke-width="1.1"/>
<rect x="522.01" y="204.7" width="3" height="9.3" fill="#f04844"/>
<line x1="527.32" y1="197.7" x2="527.32" y2="238.5" stroke="#f04844" stroke-width="1.1"/>
<rect x="525.82" y="214" width="3" height="14.0" fill="#f04844"/>
<line x1="531.14" y1="226.3" x2="531.14" y2="266.8" stroke="#f04844" stroke-width="1.1"/>
<rect x="529.64" y="227.4" width="3" height="36.3" fill="#f04844"/>
<line x1="534.95" y1="248.1" x2="534.95" y2="264.2" stroke="#22a395" stroke-width="1.1"/>
<rect x="533.45" y="256.7" width="3" height="7.0" fill="#22a395"/>
<line x1="538.77" y1="248.9" x2="538.77" y2="273.8" stroke="#f04844" stroke-width="1.1"/>
<rect x="537.27" y="255.9" width="3" height="9.3" fill="#f04844"/>
<line x1="542.58" y1="252.8" x2="542.58" y2="285.4" stroke="#f04844" stroke-width="1.1"/>
<rect x="541.08" y="265.2" width="3" height="14.8" fill="#f04844"/>
<line x1="546.40" y1="268.3" x2="546.40" y2="299.4" stroke="#22a395" stroke-width="1.1"/>
<rect x="544.90" y="273.8" width="3" height="6.2" fill="#22a395"/>
<line x1="550.21" y1="273.8" x2="550.21" y2="304.1" stroke="#f04844" stroke-width="1.1"/>
<rect x="548.71" y="273.8" width="3" height="10.8" fill="#f04844"/>
<line x1="554.03" y1="273" x2="554.03" y2="321.2" stroke="#f04844" stroke-width="1.1"/>
<rect x="552.53" y="284" width="3" height="34.8" fill="#f04844"/>
<line x1="557.84" y1="311.8" x2="557.84" y2="359.3" stroke="#f04844" stroke-width="1.1"/>
<rect x="556.34" y="318.5" width="3" height="10.4" fill="#f04844"/>
<line x1="561.66" y1="325" x2="561.66" y2="338.3" stroke="#f04844" stroke-width="1.1"/>
<rect x="560.16" y="328.5" width="3" height="2.8" fill="#f04844"/>
<line x1="565.47" y1="307.2" x2="565.47" y2="331.8" stroke="#22a395" stroke-width="1.1"/>
<rect x="563.97" y="316.5" width="3" height="14.8" fill="#22a395"/>
<line x1="569.29" y1="299.4" x2="569.29" y2="326.6" stroke="#22a395" stroke-width="1.1"/>
<rect x="567.79" y="306.4" width="3" height="10.1" fill="#22a395"/>
<line x1="573.10" y1="304.1" x2="573.10" y2="321.2" stroke="#f04844" stroke-width="1.1"/>
<rect x="571.60" y="306.4" width="3" height="7.0" fill="#f04844"/>
<line x1="576.92" y1="290.9" x2="576.92" y2="319.6" stroke="#22a395" stroke-width="1.1"/>
<rect x="575.42" y="291.2" width="3" height="22.2" fill="#22a395"/>
<line x1="580.73" y1="280.8" x2="580.73" y2="293.2" stroke="#22a395" stroke-width="1.1"/>
<rect x="579.23" y="285.4" width="3" height="6.2" fill="#22a395"/>
<line x1="584.55" y1="273.8" x2="584.55" y2="293.2" stroke="#f04844" stroke-width="1.1"/>
<rect x="583.05" y="285.1" width="3" height="3.4" fill="#f04844"/>
<line x1="588.36" y1="286.2" x2="588.36" y2="293.2" stroke="#f04844" stroke-width="1.1"/>
<rect x="586.86" y="287.7" width="3" height="1.0" fill="#f04844"/>
<line x1="592.18" y1="280.8" x2="592.18" y2="292.4" stroke="#f04844" stroke-width="1.1"/>
<rect x="590.68" y="289.3" width="3" height="2.3" fill="#f04844"/>
<line x1="595.99" y1="291.6" x2="595.99" y2="336.7" stroke="#f04844" stroke-width="1.1"/>
<rect x="594.49" y="292.4" width="3" height="28.0" fill="#f04844"/>
<line x1="599.81" y1="279.2" x2="599.81" y2="320.8" stroke="#22a395" stroke-width="1.1"/>
<rect x="598.31" y="286.2" width="3" height="34.2" fill="#22a395"/>
<line x1="603.62" y1="265.2" x2="603.62" y2="287.7" stroke="#22a395" stroke-width="1.1"/>
<rect x="602.12" y="270.6" width="3" height="16.4" fill="#22a395"/>
<line x1="607.44" y1="266.2" x2="607.44" y2="286" stroke="#f04844" stroke-width="1.1"/>
<rect x="605.94" y="270.6" width="3" height="9.4" fill="#f04844"/>
<line x1="611.25" y1="275.8" x2="611.25" y2="308" stroke="#f04844" stroke-width="1.1"/>
<rect x="609.75" y="279.9" width="3" height="20.1" fill="#f04844"/>
<line x1="615.07" y1="292.9" x2="615.07" y2="301.7" stroke="#f04844" stroke-width="1.1"/>
<rect x="613.57" y="299.1" width="3" height="1.0" fill="#f04844"/>
<line x1="618.88" y1="282.5" x2="618.88" y2="310" stroke="#22a395" stroke-width="1.1"/>
<rect x="617.38" y="291.8" width="3" height="8.3" fill="#22a395"/>
<line x1="622.70" y1="279.4" x2="622.70" y2="296.5" stroke="#22a395" stroke-width="1.1"/>
<rect x="621.20" y="290.3" width="3" height="2.0" fill="#22a395"/>
<line x1="626.51" y1="262.3" x2="626.51" y2="297.5" stroke="#22a395" stroke-width="1.1"/>
<rect x="625.01" y="275.7" width="3" height="15.1" fill="#22a395"/>
<line x1="630.33" y1="264.3" x2="630.33" y2="283" stroke="#f04844" stroke-width="1.1"/>
<rect x="628.83" y="276.3" width="3" height="5.7" fill="#f04844"/>
<line x1="634.14" y1="270" x2="634.14" y2="299.1" stroke="#22a395" stroke-width="1.1"/>
<rect x="632.64" y="277.3" width="3" height="5.2" fill="#22a395"/>
<line x1="637.96" y1="275.7" x2="637.96" y2="297.5" stroke="#f04844" stroke-width="1.1"/>
<rect x="636.46" y="277.3" width="3" height="15.6" fill="#f04844"/>
<line x1="641.77" y1="290.3" x2="641.77" y2="295.5" stroke="#f04844" stroke-width="1.1"/>
<rect x="640.27" y="292.3" width="3" height="1.1" fill="#f04844"/>
<line x1="645.59" y1="291.3" x2="645.59" y2="310.5" stroke="#f04844" stroke-width="1.1"/>
<rect x="644.09" y="292.9" width="3" height="15.0" fill="#f04844"/>
<line x1="649.40" y1="294.4" x2="649.40" y2="327.6" stroke="#f04844" stroke-width="1.1"/>
<rect x="647.90" y="306.9" width="3" height="12.9" fill="#f04844"/>
<line x1="653.22" y1="307.4" x2="653.22" y2="326.6" stroke="#22a395" stroke-width="1.1"/>
<rect x="651.72" y="310" width="3" height="9.8" fill="#22a395"/>
<line x1="657.03" y1="291.8" x2="657.03" y2="326.1" stroke="#f04844" stroke-width="1.1"/>
<rect x="655.53" y="310" width="3" height="10.4" fill="#f04844"/>
<line x1="660.85" y1="297.5" x2="660.85" y2="332.3" stroke="#f04844" stroke-width="1.1"/>
<rect x="659.35" y="320.9" width="3" height="5.7" fill="#f04844"/>
<line x1="664.66" y1="299.1" x2="664.66" y2="327.6" stroke="#22a395" stroke-width="1.1"/>
<rect x="663.16" y="307.4" width="3" height="19.2" fill="#22a395"/>
<line x1="668.48" y1="304.8" x2="668.48" y2="308.4" stroke="#22a395" stroke-width="1.1"/>
<rect x="666.98" y="306.3" width="3" height="1.1" fill="#22a395"/>
<line x1="672.29" y1="301.2" x2="672.29" y2="310.5" stroke="#22a395" stroke-width="1.1"/>
<rect x="670.79" y="304.3" width="3" height="2.6" fill="#22a395"/>
<line x1="676.11" y1="290.3" x2="676.11" y2="308.9" stroke="#f04844" stroke-width="1.1"/>
<rect x="674.61" y="303.2" width="3" height="1.1" fill="#f04844"/>
<line x1="679.92" y1="302.2" x2="679.92" y2="317.8" stroke="#f04844" stroke-width="1.1"/>
<rect x="678.42" y="303.8" width="3" height="8.8" fill="#f04844"/>
<line x1="683.74" y1="308.4" x2="683.74" y2="318.8" stroke="#22a395" stroke-width="1.1"/>
<rect x="682.24" y="310.5" width="3" height="2.1" fill="#22a395"/>
<line x1="687.55" y1="304.3" x2="687.55" y2="315.2" stroke="#f04844" stroke-width="1.1"/>
<rect x="686.05" y="310.5" width="3" height="4.1" fill="#f04844"/>
<line x1="691.37" y1="298" x2="691.37" y2="316.7" stroke="#22a395" stroke-width="1.1"/>
<rect x="689.87" y="313.1" width="3" height="1.0" fill="#22a395"/>
<line x1="695.18" y1="308.4" x2="695.18" y2="313.7" stroke="#22a395" stroke-width="1.1"/>
<rect x="693.68" y="309" width="3" height="4.1" fill="#22a395"/>
<line x1="699.00" y1="307.8" x2="699.00" y2="311.9" stroke="#22a395" stroke-width="1.1"/>
<rect x="697.50" y="308.4" width="3" height="1.2" fill="#22a395"/>
<line x1="702.81" y1="292.1" x2="702.81" y2="316" stroke="#f04844" stroke-width="1.1"/>
<rect x="701.31" y="309" width="3" height="5.8" fill="#f04844"/>
<line x1="706.63" y1="298.5" x2="706.63" y2="316" stroke="#22a395" stroke-width="1.1"/>
<rect x="705.13" y="304.9" width="3" height="9.9" fill="#22a395"/>
<line x1="710.44" y1="300.3" x2="710.44" y2="313.1" stroke="#f04844" stroke-width="1.1"/>
<rect x="708.94" y="304.9" width="3" height="5.3" fill="#f04844"/>
<line x1="714.26" y1="302" x2="714.26" y2="311" stroke="#22a395" stroke-width="1.1"/>
<rect x="712.76" y="303.2" width="3" height="7.6" fill="#22a395"/>
<line x1="718.07" y1="287.4" x2="718.07" y2="304.3" stroke="#22a395" stroke-width="1.1"/>
<rect x="716.57" y="294.4" width="3" height="9.4" fill="#22a395"/>
<line x1="721.89" y1="289.2" x2="721.89" y2="298.5" stroke="#22a395" stroke-width="1.1"/>
<rect x="720.39" y="289.8" width="3" height="5.2" fill="#22a395"/>
<line x1="725.70" y1="281.6" x2="725.70" y2="291" stroke="#22a395" stroke-width="1.1"/>
<rect x="724.20" y="284" width="3" height="6.4" fill="#22a395"/>
<line x1="729.52" y1="261.8" x2="729.52" y2="285.1" stroke="#22a395" stroke-width="1.1"/>
<rect x="728.02" y="268.2" width="3" height="16.3" fill="#22a395"/>
<line x1="733.33" y1="264.1" x2="733.33" y2="285.1" stroke="#f04844" stroke-width="1.1"/>
<rect x="731.83" y="268.2" width="3" height="1.0" fill="#f04844"/>
<line x1="737.15" y1="268.8" x2="737.15" y2="289.8" stroke="#f04844" stroke-width="1.1"/>
<rect x="735.65" y="269.4" width="3" height="16.3" fill="#f04844"/>
<line x1="740.96" y1="282.2" x2="740.96" y2="298.5" stroke="#f04844" stroke-width="1.1"/>
<rect x="739.46" y="285.1" width="3" height="1.8" fill="#f04844"/>
<line x1="744.78" y1="279.9" x2="744.78" y2="296.2" stroke="#f04844" stroke-width="1.1"/>
<rect x="743.28" y="286.9" width="3" height="3.5" fill="#f04844"/>
<line x1="748.59" y1="288.6" x2="748.59" y2="291.5" stroke="#f04844" stroke-width="1.1"/>
<rect x="747.09" y="289.8" width="3" height="1.1" fill="#f04844"/>
<line x1="752.41" y1="285.7" x2="752.41" y2="292.1" stroke="#22a395" stroke-width="1.1"/>
<rect x="750.91" y="287.4" width="3" height="4.1" fill="#22a395"/>
<line x1="756.22" y1="277.5" x2="756.22" y2="292.1" stroke="#22a395" stroke-width="1.1"/>
<rect x="754.72" y="286.3" width="3" height="1.1" fill="#22a395"/>
<line x1="760.04" y1="249.6" x2="760.04" y2="286.9" stroke="#22a395" stroke-width="1.1"/>
<rect x="758.54" y="257.1" width="3" height="29.2" fill="#22a395"/>
<line x1="763.85" y1="239.7" x2="763.85" y2="261.2" stroke="#22a395" stroke-width="1.1"/>
<rect x="762.35" y="246.7" width="3" height="11.0" fill="#22a395"/>
<line x1="767.67" y1="244.9" x2="767.67" y2="258.3" stroke="#f04844" stroke-width="1.1"/>
<rect x="766.17" y="246.7" width="3" height="9.9" fill="#f04844"/>
<line x1="771.48" y1="253.6" x2="771.48" y2="264.1" stroke="#f04844" stroke-width="1.1"/>
<rect x="769.98" y="256" width="3" height="1.0" fill="#f04844"/>
<line x1="775.30" y1="255.4" x2="775.30" y2="259.5" stroke="#f04844" stroke-width="1.1"/>
<rect x="773.80" y="256" width="3" height="2.9" fill="#f04844"/>
<line x1="779.11" y1="256.6" x2="779.11" y2="270" stroke="#f04844" stroke-width="1.1"/>
<rect x="777.61" y="259.1" width="3" height="10.4" fill="#f04844"/>
<line x1="782.93" y1="269" x2="782.93" y2="281.4" stroke="#f04844" stroke-width="1.1"/>
<rect x="781.43" y="269.5" width="3" height="7.3" fill="#f04844"/>
<line x1="786.74" y1="275.2" x2="786.74" y2="308.9" stroke="#f04844" stroke-width="1.1"/>
<rect x="785.24" y="276.8" width="3" height="29.0" fill="#f04844"/>
<line x1="790.56" y1="291.3" x2="790.56" y2="312.5" stroke="#22a395" stroke-width="1.1"/>
<rect x="789.06" y="299" width="3" height="6.8" fill="#22a395"/>
<line x1="794.38" y1="291.8" x2="794.38" y2="304.2" stroke="#22a395" stroke-width="1.1"/>
<rect x="792.88" y="297.5" width="3" height="1.0" fill="#22a395"/>
<line x1="798.19" y1="286.1" x2="798.19" y2="304.2" stroke="#22a395" stroke-width="1.1"/>
<rect x="796.69" y="297" width="3" height="1.0" fill="#22a395"/>
<line x1="802.00" y1="295.4" x2="802.00" y2="300.1" stroke="#f04844" stroke-width="1.1"/>
<rect x="800.50" y="296.5" width="3" height="3.1" fill="#f04844"/>
<line x1="805.82" y1="299" x2="805.82" y2="320.8" stroke="#f04844" stroke-width="1.1"/>
<rect x="804.32" y="299.6" width="3" height="18.1" fill="#f04844"/>
<line x1="809.63" y1="302.2" x2="809.63" y2="318.7" stroke="#22a395" stroke-width="1.1"/>
<rect x="808.13" y="306.3" width="3" height="11.9" fill="#22a395"/>
<line x1="813.45" y1="298" x2="813.45" y2="312.5" stroke="#22a395" stroke-width="1.1"/>
<rect x="811.95" y="299" width="3" height="7.8" fill="#22a395"/>
<line x1="817.26" y1="290.2" x2="817.26" y2="302.7" stroke="#22a395" stroke-width="1.1"/>
<rect x="815.76" y="298.5" width="3" height="1.6" fill="#22a395"/>
<line x1="821.08" y1="298.5" x2="821.08" y2="339.4" stroke="#f04844" stroke-width="1.1"/>
<rect x="819.58" y="299" width="3" height="32.7" fill="#f04844"/>
<line x1="824.89" y1="331" x2="824.89" y2="355" stroke="#f04844" stroke-width="1.1"/>
<rect x="823.39" y="331.7" width="3" height="2.5" fill="#f04844"/>
<line x1="828.71" y1="333.6" x2="828.71" y2="391.9" stroke="#f04844" stroke-width="1.1"/>
<rect x="827.21" y="334.2" width="3" height="38.3" fill="#f04844"/>
<line x1="832.52" y1="367.3" x2="832.52" y2="391.9" stroke="#f04844" stroke-width="1.1"/>
<rect x="831.02" y="371.8" width="3" height="13.0" fill="#f04844"/>
<line x1="836.34" y1="367.9" x2="836.34" y2="399.7" stroke="#22a395" stroke-width="1.1"/>
<rect x="834.84" y="371.8" width="3" height="13.0" fill="#22a395"/>
<line x1="840.15" y1="369.2" x2="840.15" y2="411.3" stroke="#f04844" stroke-width="1.1"/>
<rect x="838.65" y="371.8" width="3" height="20.7" fill="#f04844"/>
<line x1="843.97" y1="384.1" x2="843.97" y2="418.4" stroke="#f04844" stroke-width="1.1"/>
<rect x="842.47" y="392.5" width="3" height="18.0" fill="#f04844"/>
<line x1="847.78" y1="409.5" x2="847.78" y2="485" stroke="#f04844" stroke-width="1.1"/>
<rect x="846.28" y="410.2" width="3" height="71.4" fill="#f04844"/>
<line x1="851.60" y1="420.4" x2="851.60" y2="500.7" stroke="#22a395" stroke-width="1.1"/>
<rect x="850.10" y="427.9" width="3" height="53.7" fill="#22a395"/>
<line x1="855.41" y1="420.4" x2="855.41" y2="451" stroke="#f04844" stroke-width="1.1"/>
<rect x="853.91" y="427.9" width="3" height="10.2" fill="#f04844"/>
<line x1="859.23" y1="416.3" x2="859.23" y2="440.1" stroke="#22a395" stroke-width="1.1"/>
<rect x="857.73" y="429.9" width="3" height="9.6" fill="#22a395"/>
<line x1="863.04" y1="421.8" x2="863.04" y2="443.5" stroke="#f04844" stroke-width="1.1"/>
<rect x="861.54" y="429.9" width="3" height="1.4" fill="#f04844"/>
<line x1="866.86" y1="427.9" x2="866.86" y2="446.9" stroke="#f04844" stroke-width="1.1"/>
<rect x="865.36" y="428.6" width="3" height="12.2" fill="#f04844"/>
<line x1="870.67" y1="437.4" x2="870.67" y2="460.5" stroke="#f04844" stroke-width="1.1"/>
<rect x="869.17" y="439.5" width="3" height="12.9" fill="#f04844"/>
<line x1="874.49" y1="443.5" x2="874.49" y2="465.3" stroke="#f04844" stroke-width="1.1"/>
<rect x="872.99" y="451.7" width="3" height="6.8" fill="#f04844"/>
<line x1="878.30" y1="436.1" x2="878.30" y2="459.9" stroke="#22a395" stroke-width="1.1"/>
<rect x="876.80" y="440.1" width="3" height="19.1" fill="#22a395"/>
<line x1="882.12" y1="427.9" x2="882.12" y2="441" stroke="#22a395" stroke-width="1.1"/>
<rect x="880.62" y="432.7" width="3" height="8.1" fill="#22a395"/>
<line x1="885.93" y1="425.2" x2="885.93" y2="445.6" stroke="#f04844" stroke-width="1.1"/>
<rect x="884.43" y="432.7" width="3" height="8.1" fill="#f04844"/>
<line x1="889.75" y1="431.3" x2="889.75" y2="451" stroke="#22a395" stroke-width="1.1"/>
<rect x="888.25" y="440.1" width="3" height="1.0" fill="#22a395"/>
<line x1="893.56" y1="436.7" x2="893.56" y2="455.1" stroke="#f04844" stroke-width="1.1"/>
<rect x="892.06" y="439.5" width="3" height="10.2" fill="#f04844"/>
<line x1="897.38" y1="442.2" x2="897.38" y2="459.9" stroke="#f04844" stroke-width="1.1"/>
<rect x="895.88" y="449" width="3" height="8.1" fill="#f04844"/>
<line x1="901.19" y1="451" x2="901.19" y2="461.9" stroke="#22a395" stroke-width="1.1"/>
<rect x="899.69" y="453.1" width="3" height="4.7" fill="#22a395"/>
<line x1="905.01" y1="443.5" x2="905.01" y2="457.8" stroke="#22a395" stroke-width="1.1"/>
<rect x="903.51" y="446.3" width="3" height="6.8" fill="#22a395"/>
<line x1="908.82" y1="440.8" x2="908.82" y2="448.3" stroke="#f04844" stroke-width="1.1"/>
<rect x="907.32" y="446.3" width="3" height="1.0" fill="#f04844"/>
<line x1="912.64" y1="444.2" x2="912.64" y2="451.6" stroke="#f04844" stroke-width="1.1"/>
<rect x="911.14" y="446.2" width="3" height="2.5" fill="#f04844"/>
<line x1="916.45" y1="447.9" x2="916.45" y2="473.7" stroke="#f04844" stroke-width="1.1"/>
<rect x="914.95" y="448.7" width="3" height="20.8" fill="#f04844"/>
<line x1="920.27" y1="466.4" x2="920.27" y2="483.6" stroke="#f04844" stroke-width="1.1"/>
<rect x="918.77" y="469.5" width="3" height="4.3" fill="#f04844"/>
<line x1="924.08" y1="432.5" x2="924.08" y2="474" stroke="#22a395" stroke-width="1.1"/>
<rect x="922.58" y="446.1" width="3" height="27.7" fill="#22a395"/>
<line x1="927.90" y1="439.9" x2="927.90" y2="455.3" stroke="#f04844" stroke-width="1.1"/>
<rect x="926.40" y="446.1" width="3" height="3.7" fill="#f04844"/>
<line x1="931.71" y1="444.2" x2="931.71" y2="466.4" stroke="#f04844" stroke-width="1.1"/>
<rect x="930.21" y="449.5" width="3" height="11.3" fill="#f04844"/>
<line x1="935.53" y1="447.9" x2="935.53" y2="479.9" stroke="#22a395" stroke-width="1.1"/>
<rect x="934.03" y="452.8" width="3" height="8.0" fill="#22a395"/>
<line x1="939.34" y1="444.2" x2="939.34" y2="465.8" stroke="#f04844" stroke-width="1.1"/>
<rect x="937.84" y="452.8" width="3" height="9.3" fill="#f04844"/>
<line x1="943.16" y1="431.9" x2="943.16" y2="464.5" stroke="#22a395" stroke-width="1.1"/>
<rect x="941.66" y="440.5" width="3" height="21.6" fill="#22a395"/>
<line x1="946.97" y1="437.5" x2="946.97" y2="458.4" stroke="#f04844" stroke-width="1.1"/>
<rect x="945.47" y="440.5" width="3" height="3.1" fill="#f04844"/>
<line x1="950.79" y1="404.2" x2="950.79" y2="449.8" stroke="#22a395" stroke-width="1.1"/>
<rect x="949.29" y="414.1" width="3" height="29.5" fill="#22a395"/>
<line x1="954.60" y1="407.9" x2="954.60" y2="427.6" stroke="#f04844" stroke-width="1.1"/>
<rect x="953.10" y="414.1" width="3" height="12.9" fill="#f04844"/>
<line x1="958.42" y1="422.1" x2="958.42" y2="447.3" stroke="#f04844" stroke-width="1.1"/>
<rect x="956.92" y="427" width="3" height="18.2" fill="#f04844"/>
<line x1="962.23" y1="443.6" x2="962.23" y2="452.8" stroke="#f04844" stroke-width="1.1"/>
<rect x="960.73" y="445" width="3" height="6.4" fill="#f04844"/>
<line x1="966.05" y1="444.2" x2="966.05" y2="461.5" stroke="#f04844" stroke-width="1.1"/>
<rect x="964.55" y="451.2" width="3" height="9.6" fill="#f04844"/>
<line x1="969.86" y1="436.2" x2="969.86" y2="461" stroke="#22a395" stroke-width="1.1"/>
<rect x="968.36" y="443" width="3" height="17.8" fill="#22a395"/>
<line x1="973.68" y1="419.6" x2="973.68" y2="443.6" stroke="#22a395" stroke-width="1.1"/>
<rect x="972.18" y="432.5" width="3" height="10.5" fill="#22a395"/>
<line x1="977.49" y1="425.0" x2="977.49" y2="439.6" stroke="#22a395" stroke-width="1.1"/>
<rect x="975.99" y="430.1" width="3" height="2.8" fill="#22a395"/>
<path d="M4.67,184.60 L8.49,184.14 L12.30,183.57 L16.12,182.99 L19.93,182.36 L23.75,181.71 L27.56,181.05 L31.38,180.39 L35.19,179.73 L39.00,179.06 L42.82,178.38 L46.64,177.70 L50.45,177.03 L54.27,176.01 L58.08,174.67 L61.89,173.34 L65.71,172.00 L69.53,170.66 L73.34,169.03 L77.16,167.39 L80.97,165.74 L84.78,164.10 L88.60,162.39 L92.41,160.60 L96.23,158.80 L100.05,157.00 L103.86,155.20 L107.67,153.63 L111.49,152.10 L115.30,150.58 L119.12,149.05 L122.94,147.62 L126.75,146.48 L130.56,145.34 L134.38,144.20 L138.19,143.06 L142.01,141.51 L145.83,139.78 L149.64,138.05 L153.46,136.32 L157.27,134.52 L161.09,132.24 L164.90,129.96 L168.72,127.68 L172.53,125.40 L176.34,123.53 L180.16,121.98 L183.98,120.43 L187.79,119.20 L191.61,119.20 L195.42,117.46 L199.24,116.74 L203.05,115.57 L206.87,115.08 L210.68,114.05 L214.50,113.00 L218.31,112.27 L222.12,112.17 L225.94,111.65 L229.75,111.33 L233.57,111.14 L237.39,112.21 L241.20,113.41 L245.02,114.68 L248.83,116.05 L252.65,117.25 L256.46,118.09 L260.27,119.19 L264.09,120.37 L267.90,121.43 L271.72,122.36 L275.54,123.07 L279.35,123.88 L283.17,124.69 L286.98,125.14 L290.80,125.46 L294.61,125.70 L298.43,126.08 L302.24,126.64 L306.06,126.79 L309.87,127.01 L313.69,127.13 L317.50,127.14 L321.31,126.79 L325.13,126.42 L328.94,126.66 L332.76,127.09 L336.57,127.20 L340.39,128.06 L344.20,129.15 L348.02,130.18 L351.83,130.77 L355.65,131.46 L359.47,132.11 L363.28,132.34 L367.10,132.72 L370.91,132.17 L374.73,131.48 L378.54,130.70 L382.36,129.72 L386.17,129.02 L389.99,127.57 L393.80,126.56 L397.62,126.51 L401.43,127.40 L405.25,127.45 L409.06,127.24 L412.88,126.84 L416.69,126.98 L420.50,127.42 L424.32,128.29 L428.13,128.43 L431.95,128.47 L435.76,128.14 L439.58,128.26 L443.39,128.75 L447.21,128.96 L451.02,128.90 L454.84,128.75 L458.66,128.16 L462.47,127.75 L466.29,127.67 L470.10,127.87 L473.92,128.66 L477.73,129.48 L481.55,130.29 L485.36,131.01 L489.18,132.21 L492.99,134.13 L496.81,135.91 L500.62,137.98 L504.44,139.88 L508.25,141.71 L512.06,143.23 L515.88,144.48 L519.69,145.80 L523.51,147.20 L527.32,149.08 L531.14,151.05 L534.95,152.99 L538.77,155.04 L542.58,157.81 L546.40,160.74 L550.21,163.82 L554.03,168.24 L557.84,173.14 L561.66,178.32 L565.47,183.21 L569.29,188.06 L573.10,193.22 L576.92,197.45 L580.73,201.86 L584.55,206.09 L588.36,209.10 L592.18,211.88 L595.99,215.84 L599.81,219.12 L603.62,221.81 L607.44,224.38 L611.25,226.98 L615.07,229.34 L618.88,231.65 L622.70,234.13 L626.51,236.59 L630.33,238.86 L634.14,240.94 L637.96,243.67 L641.77,246.55 L645.59,249.80 L649.40,253.67 L653.22,257.29 L657.03,260.92 L660.85,264.32 L664.66,267.10 L668.48,270.03 L672.29,272.98 L676.11,276.01 L679.92,278.65 L683.74,280.54 L687.55,282.86 L691.37,284.79 L695.18,286.91 L699.00,288.88 L702.81,291.31 L706.63,293.74 L710.44,295.85 L714.26,297.63 L718.07,298.96 L721.89,299.48 L725.70,300.03 L729.52,300.09 L733.33,299.86 L737.15,300.10 L740.96,300.15 L744.78,299.58 L748.59,298.82 L752.41,297.94 L756.22,297.34 L760.04,296.35 L763.85,295.02 L767.67,294.32 L771.48,293.75 L775.30,293.16 L779.11,292.78 L782.93,292.48 L786.74,292.19 L790.56,292.44 L794.38,292.98 L798.19,293.32 L802.00,293.31 L805.82,293.67 L809.63,293.96 L813.45,294.13 L817.26,294.59 L821.08,295.58 L824.89,296.72 L828.71,298.31 L832.52,300.14 L836.34,301.42 L840.15,302.87 L843.97,304.88 L847.78,308.10 L851.60,310.13 L855.41,312.74 L859.23,315.22 L863.04,317.76 L866.86,320.49 L870.67,323.28 L874.49,326.24 L878.30,328.75 L882.12,331.14 L885.93,333.78 L889.75,336.41 L893.56,339.11 L897.38,342.16 L901.19,345.01 L905.01,347.88 L908.82,350.93 L912.64,354.10 L916.45,357.81 L920.27,361.93 L924.08,365.47 L927.90,368.75 L931.71,372.23 L935.53,375.48 L939.34,378.90 L943.16,381.97 L946.97,385.11 L950.79,388.25 L954.60,391.86 L958.42,395.63 L962.23,399.53 L966.05,403.56 L969.86,407.03 L973.68,410.15 L977.49,412.63" fill="none" stroke="#f23645" stroke-width="2.7" stroke-linejoin="round"/>
<path d="M4.67,184.30 L8.49,183.28 L12.30,183.53 L16.12,181.76 L19.93,179.66 L23.75,178.92 L27.56,178.00 L31.38,176.45 L35.19,175.84 L39.00,174.72 L42.82,172.20 L46.64,166.81 L50.45,160.88 L54.27,155.64 L58.08,149.78 L61.89,143.97 L65.71,140.14 L69.53,136.07 L73.34,132.02 L77.16,129.26 L80.97,126.71 L84.78,124.92 L88.60,123.10 L92.41,119.79 L96.23,117.61 L100.05,115.93 L103.86,114.85 L107.67,113.61 L111.49,111.55 L115.30,110.63 L119.12,109.80 L122.94,109.10 L126.75,109.93 L130.56,112.31 L134.38,114.88 L138.19,116.05 L142.01,116.64 L145.83,117.80 L149.64,118.22 L153.46,116.98 L157.27,116.38 L161.09,115.99 L164.90,113.80 L168.72,112.25 L172.53,109.81 L176.34,105.53 L180.16,104.98 L183.98,105.10 L187.79,104.93 L191.61,104.88 L195.42,105.80 L199.24,108.82 L203.05,110.58 L206.87,113.42 L210.68,112.96 L214.50,113.58 L218.31,115.41 L222.12,119.32 L225.94,121.70 L229.75,124.18 L233.57,125.60 L237.39,129.71 L241.20,133.04 L245.02,136.50 L248.83,138.96 L252.65,139.92 L256.46,140.45 L260.27,141.59 L264.09,142.68 L267.90,143.93 L271.72,144.42 L275.54,144.29 L279.35,144.51 L283.17,143.02 L286.98,140.77 L290.80,138.38 L294.61,136.31 L298.43,134.85 L302.24,133.42 L306.06,131.16 L309.87,129.42 L313.69,127.41 L317.50,126.56 L321.31,125.66 L325.13,125.21 L328.94,126.52 L332.76,128.16 L336.57,128.75 L340.39,132.22 L344.20,134.83 L348.02,137.46 L351.83,137.87 L355.65,136.87 L359.47,136.24 L363.28,132.60 L367.10,127.97 L370.91,122.67 L374.73,117.81 L378.54,112.70 L382.36,107.24 L386.17,104.64 L389.99,100.83 L393.80,98.56 L397.62,102.31 L401.43,107.13 L405.25,108.56 L409.06,109.84 L412.88,112.38 L416.69,116.11 L420.50,121.23 L424.32,127.03 L428.13,131.69 L431.95,135.01 L435.76,136.71 L439.58,139.74 L443.39,142.93 L447.21,144.21 L451.02,144.71 L454.84,144.78 L458.66,143.01 L462.47,141.65 L466.29,141.41 L470.10,142.84 L473.92,145.29 L477.73,146.68 L481.55,147.61 L485.36,148.11 L489.18,151.23 L492.99,157.38 L496.81,161.33 L500.62,166.58 L504.44,170.04 L508.25,173.85 L512.06,175.68 L515.88,176.45 L519.69,179.14 L523.51,182.46 L527.32,186.80 L531.14,194.12 L534.95,200.08 L538.77,206.28 L542.58,213.30 L546.40,219.06 L550.21,225.31 L554.03,234.21 L557.84,243.23 L561.66,251.62 L565.47,257.80 L569.29,262.42 L573.10,267.28 L576.92,269.56 L580.73,271.07 L584.55,272.73 L588.36,274.23 L592.18,275.88 L595.99,280.12 L599.81,280.70 L603.62,279.74 L607.44,279.76 L611.25,281.69 L615.07,283.44 L618.88,284.24 L622.70,284.82 L626.51,283.95 L630.33,283.76 L634.14,283.15 L637.96,284.08 L641.77,284.96 L645.59,287.15 L649.40,290.26 L653.22,292.14 L657.03,294.83 L660.85,297.86 L664.66,298.76 L668.48,299.48 L672.29,299.94 L676.11,300.36 L679.92,301.52 L683.74,302.38 L687.55,303.54 L691.37,304.45 L695.18,304.89 L699.00,305.22 L702.81,306.13 L706.63,306.01 L710.44,306.41 L714.26,306.11 L718.07,304.99 L721.89,303.55 L725.70,301.68 L729.52,298.50 L733.33,295.67 L737.15,294.72 L740.96,293.97 L744.78,293.63 L748.59,293.37 L752.41,292.80 L756.22,292.18 L760.04,288.84 L763.85,284.83 L767.67,282.14 L771.48,279.71 L775.30,277.73 L779.11,276.94 L782.93,276.93 L786.74,279.68 L790.56,281.52 L794.38,283.04 L798.19,284.37 L802.00,285.82 L805.82,288.86 L809.63,290.52 L813.45,291.33 L817.26,292.01 L821.08,295.79 L824.89,299.45 L828.71,306.40 L832.52,313.87 L836.34,319.39 L840.15,326.35 L843.97,334.37 L847.78,348.39 L851.60,355.96 L855.41,363.78 L859.23,370.08 L863.04,375.91 L866.86,382.09 L870.67,388.79 L874.49,395.43 L878.30,399.68 L882.12,402.83 L885.93,406.44 L889.75,409.65 L893.56,413.46 L897.38,417.62 L901.19,421.00 L905.01,423.41 L908.82,425.64 L912.64,427.84 L916.45,431.81 L920.27,435.81 L924.08,436.79 L927.90,438.03 L931.71,440.20 L935.53,441.40 L939.34,443.37 L943.16,443.09 L946.97,443.14 L950.79,440.38 L954.60,439.10 L958.42,439.68 L962.23,440.80 L966.05,442.70 L969.86,442.73 L973.68,441.76 L977.49,440.65" fill="none" stroke="#2962ff" stroke-width="2.7" stroke-linejoin="round"/>
<line x1="5" y1="430.1" x2="1074" y2="430.1" stroke="#26a69a" stroke-width="1" stroke-dasharray="1 3"/>
<line x1="846.4" y1="501.8" x2="1046.6" y2="453.3" stroke="#173a75" stroke-width="2.8" stroke-linecap="round"/>
<path d="M985.2,480 H1046.2 Q1052.2,480 1052.2,486 V502.2 Q1052.2,508.2 1046.2,508.2 H985.2 Q979.2,508.2 979.2,502.2 V500.4 L931.4,484.4 L979.2,486.7 V486 Q979.2,480 985.2,480 Z" fill="#fff" stroke="#a8393b" stroke-width="1.6" stroke-linejoin="round"/>
<text x="987.8" y="497.0" font-size="10.6" fill="#9b2b2e" stroke="#9b2b2e" stroke-width="0.25" textLength="54.9" lengthAdjust="spacingAndGlyphs">Support line</text>
<circle cx="977.26" cy="516.7" r="8.15" fill="#fff" stroke="#a035c0" stroke-width="1.6"/>
<path d="M979.7,512.4 L974.1,516.4 L980.5,516.3 L975,520.5" fill="none" stroke="#a035c0" stroke-width="1.6" stroke-linejoin="round" stroke-linecap="round"/>
</g>
<text x="1082.5" y="504.4" font-size="10" fill="#131722" stroke="#131722" stroke-width="0.25" textLength="44.3" lengthAdjust="spacingAndGlyphs">60,000.00</text>
<text x="1082.5" y="476.8" font-size="10" fill="#131722" stroke="#131722" stroke-width="0.25" textLength="44.3" lengthAdjust="spacingAndGlyphs">64,000.00</text>
<text x="1082.5" y="449.3" font-size="10" fill="#131722" stroke="#131722" stroke-width="0.25" textLength="44.3" lengthAdjust="spacingAndGlyphs">68,000.00</text>
<text x="1082.5" y="421.7" font-size="10" fill="#131722" stroke="#131722" stroke-width="0.25" textLength="44.3" lengthAdjust="spacingAndGlyphs">72,000.00</text>
<text x="1082.5" y="394.2" font-size="10" fill="#131722" stroke="#131722" stroke-width="0.25" textLength="44.3" lengthAdjust="spacingAndGlyphs">76,000.00</text>
<text x="1082.5" y="366.6" font-size="10" fill="#131722" stroke="#131722" stroke-width="0.25" textLength="44.3" lengthAdjust="spacingAndGlyphs">80,000.00</text>
<text x="1082.5" y="339.1" font-size="10" fill="#131722" stroke="#131722" stroke-width="0.25" textLength="44.3" lengthAdjust="spacingAndGlyphs">84,000.00</text>
<text x="1082.5" y="311.5" font-size="10" fill="#131722" stroke="#131722" stroke-width="0.25" textLength="44.3" lengthAdjust="spacingAndGlyphs">88,000.00</text>
<text x="1082.5" y="284.0" font-size="10" fill="#131722" stroke="#131722" stroke-width="0.25" textLength="44.3" lengthAdjust="spacingAndGlyphs">92,000.00</text>
<text x="1082.5" y="256.4" font-size="10" fill="#131722" stroke="#131722" stroke-width="0.25" textLength="44.3" lengthAdjust="spacingAndGlyphs">96,000.00</text>
<text x="1082.5" y="228.8" font-size="10" fill="#131722" stroke="#131722" stroke-width="0.25" textLength="49.8" lengthAdjust="spacingAndGlyphs">100,000.00</text>
<text x="1082.5" y="201.3" font-size="10" fill="#131722" stroke="#131722" stroke-width="0.25" textLength="49.8" lengthAdjust="spacingAndGlyphs">104,000.00</text>
<text x="1082.5" y="173.7" font-size="10" fill="#131722" stroke="#131722" stroke-width="0.25" textLength="49.8" lengthAdjust="spacingAndGlyphs">108,000.00</text>
<text x="1082.5" y="146.2" font-size="10" fill="#131722" stroke="#131722" stroke-width="0.25" textLength="49.8" lengthAdjust="spacingAndGlyphs">112,000.00</text>
<text x="1082.5" y="118.6" font-size="10" fill="#131722" stroke="#131722" stroke-width="0.25" textLength="49.8" lengthAdjust="spacingAndGlyphs">116,000.00</text>
<text x="1082.5" y="91.1" font-size="10" fill="#131722" stroke="#131722" stroke-width="0.25" textLength="49.8" lengthAdjust="spacingAndGlyphs">120,000.00</text>
<text x="1082.5" y="63.5" font-size="10" fill="#131722" stroke="#131722" stroke-width="0.25" textLength="49.8" lengthAdjust="spacingAndGlyphs">124,000.00</text>
<path d="M1075,38.6 H1135.2 Q1137.2,38.6 1137.2,40.6 V50.7 Q1137.2,52.7 1135.2,52.7 H1075 Z" fill="#0000ff"/>
<rect x="1075.2" y="20.8" width="64" height="27.9" fill="#fff"/>
<rect x="1077.7" y="23.3" width="59.2" height="22" rx="3.5" fill="#fff" stroke="#e6e8ed" stroke-width="1"/>
<text x="1085.5" y="38" font-size="10" fill="#131722" stroke="#131722" stroke-width="0.25">USDT</text>
<path d="M1075.2,233.1 H1128.8 Q1130.8,233.1 1130.8,235.1 V245.7 Q1130.8,247.7 1128.8,247.7 H1075.2 Z" fill="#0000ff"/>
<text x="1082.3" y="244.0" font-size="10" fill="#fff" stroke="#fff" stroke-width="0.25" textLength="44.3" lengthAdjust="spacingAndGlyphs">97,924.00</text>
<path d="M1075.2,254.5 H1128.8 Q1130.8,254.5 1130.8,256.5 V266.7 Q1130.8,268.7 1128.8,268.7 H1075.2 Z" fill="#0000ff"/>
<text x="1082.3" y="265.2" font-size="10" fill="#fff" stroke="#fff" stroke-width="0.25" textLength="44.3" lengthAdjust="spacingAndGlyphs">94,789.00</text>
<path d="M1075.2,329.0 H1128.8 Q1130.8,329.0 1130.8,331.0 V341.2 Q1130.8,343.2 1128.8,343.2 H1075.2 Z" fill="#0000ff"/>
<text x="1082.3" y="339.7" font-size="10" fill="#fff" stroke="#fff" stroke-width="0.25" textLength="44.3" lengthAdjust="spacingAndGlyphs">84,000.00</text>
<path d="M1075.2,391.2 H1128.8 Q1130.8,391.2 1130.8,393.2 V402.6 Q1130.8,404.6 1128.8,404.6 H1075.2 Z" fill="#0000ff"/>
<text x="1082.3" y="401.5" font-size="10" fill="#fff" stroke="#fff" stroke-width="0.25" textLength="44.3" lengthAdjust="spacingAndGlyphs">74,508.00</text>
<path d="M1075.2,405.2 H1128.8 Q1130.8,405.2 1130.8,407.2 V417.2 Q1130.8,419.2 1128.8,419.2 H1075.2 Z" fill="#f23645"/>
<text x="1082.3" y="415.8" font-size="10" fill="#fff" stroke="#fff" stroke-width="0.25" textLength="44.3" lengthAdjust="spacingAndGlyphs">72,875.48</text>
<path d="M1075.2,423.2 H1128.8 Q1130.8,423.2 1130.8,425.2 V458.6 Q1130.8,460.6 1128.8,460.6 H1075.2 Z" fill="#26a69a"/>
<text x="1082.3" y="433.5" font-size="10" fill="#fff" stroke="#fff" stroke-width="0.25" textLength="44.3" lengthAdjust="spacingAndGlyphs">70,354.76</text>
<text x="1082.3" y="445.2" font-size="10" fill="#fff" stroke="#fff" stroke-width="0.25" textLength="38" lengthAdjust="spacingAndGlyphs">−34.43%</text>
<text x="1082.3" y="456.8" font-size="10" fill="#fff" stroke="#fff" stroke-width="0.25" textLength="39.5" lengthAdjust="spacingAndGlyphs" fill-opacity="0.85">09:34:38</text>
<path d="M1075.2,461.4 H1128.8 Q1130.8,461.4 1130.8,463.4 V473.1 Q1130.8,475.1 1128.8,475.1 H1075.2 Z" fill="#2962ff"/>
<text x="1082.3" y="471.9" font-size="10" fill="#fff" stroke="#fff" stroke-width="0.25" textLength="44.3" lengthAdjust="spacingAndGlyphs">68,815.90</text>
<path d="M1074,405.2 H1034.2 Q1032.2,405.2 1032.2,407.2 V417.2 Q1032.2,419.2 1034.2,419.2 H1074 Z" fill="#f23645"/>
<text x="1035.7" y="415.8" font-size="10" fill="#fff" stroke="#fff" stroke-width="0.25" textLength="35.6" lengthAdjust="spacingAndGlyphs">SMA:MA</text>
<path d="M1074,423.2 H1028 Q1026,423.2 1026,425.2 V435.2 Q1026,437.2 1028,437.2 H1074 Z" fill="#26a69a"/>
<text x="1029.9" y="433.8" font-size="10" fill="#fff" stroke="#fff" stroke-width="0.25" textLength="40.5" lengthAdjust="spacingAndGlyphs">BTCUSDT</text>
<path d="M1074,461.4 H1050 Q1048,461.4 1048,463.4 V473.1 Q1048,475.1 1050,475.1 H1074 Z" fill="#2962ff"/>
<text x="1052.7" y="471.9" font-size="10" fill="#fff" stroke="#fff" stroke-width="0.25" textLength="18.6" lengthAdjust="spacingAndGlyphs">EMA</text>
<g clip-path="url(#rsiclip)">
<rect x="5" y="552.3" width="1069" height="100.7" fill="#7e57c2" fill-opacity="0.1"/>
<line x1="5.7" y1="552.3" x2="1074" y2="552.3" stroke="#9598a1" stroke-width="1" stroke-dasharray="4.2 5.1"/>
<line x1="5.7" y1="602.7" x2="1074" y2="602.7" stroke="#9598a1" stroke-width="1" stroke-dasharray="4.2 5.1"/>
<line x1="5.7" y1="653.1" x2="1074" y2="653.1" stroke="#9598a1" stroke-width="1" stroke-dasharray="4.2 5.1"/>
<path d="M45.99,552.34 L46.64,548.60 L50.45,542.97 L54.27,544.67 L58.08,538.73 L61.89,536.19 L64.80,552.34 Z" fill="url(#obg)"/>
<path d="M71.53,552.34 L73.34,551.24 L73.66,552.34 Z" fill="url(#obg)"/>
<path d="M378.52,552.34 L378.54,552.32 L382.36,547.67 L382.98,552.34 Z" fill="url(#obg)"/>
<path d="M540.84,653.06 L542.58,655.71 L544.34,653.06 Z" fill="url(#osg)"/>
<path d="M549.04,653.06 L550.21,654.43 L554.03,666.47 L557.84,669.52 L561.66,670.26 L565.47,655.53 L566.47,653.06 Z" fill="url(#osg)"/>
<path d="M826.70,653.06 L828.71,664.20 L832.52,669.26 L836.34,653.45 L840.15,662.73 L843.97,669.56 L847.78,687.63 L850.92,653.06 Z" fill="url(#osg)"/>
<path d="M873.29,653.06 L874.49,653.76 L874.67,653.06 Z" fill="url(#osg)"/>
<path d="M4.67,600.50 L8.49,598.69 L12.30,596.87 L16.12,595.04 L19.93,593.22 L23.75,591.39 L27.56,589.57 L31.38,587.39 L35.19,584.59 L39.00,581.80 L42.82,579.00 L46.64,576.10 L50.45,573.06 L54.27,576.41 L58.08,573.39 L61.89,569.87 L65.71,566.57 L69.53,564.70 L73.34,563.02 L77.16,561.10 L80.97,559.35 L84.78,558.71 L88.60,557.13 L92.41,555.03 L96.23,554.89 L100.05,556.62 L103.86,559.23 L107.67,561.54 L111.49,563.59 L115.30,566.89 L119.12,568.66 L122.94,570.78 L126.75,574.59 L130.56,578.81 L134.38,583.35 L138.19,586.19 L142.01,588.73 L145.83,592.78 L149.64,595.35 L153.46,596.30 L157.27,597.26 L161.09,598.55 L164.90,599.14 L168.72,599.11 L172.53,598.40 L176.34,596.48 L180.16,595.77 L183.98,594.12 L187.79,591.99 L191.61,591.09 L195.42,591.31 L199.24,592.33 L203.05,593.20 L206.87,596.08 L210.68,596.50 L214.50,597.36 L218.31,600.26 L222.12,603.78 L225.94,607.24 L229.75,611.99 L233.57,613.46 L237.39,615.82 L241.20,618.10 L245.02,620.49 L248.83,621.72 L252.65,620.77 L256.46,620.35 L260.27,619.60 L264.09,620.87 L267.90,621.73 L271.72,621.38 L275.54,619.55 L279.35,618.71 L283.17,616.45 L286.98,614.14 L290.80,610.33 L294.61,606.86 L298.43,603.59 L302.24,600.71 L306.06,597.97 L309.87,595.78 L313.69,592.88 L317.50,591.01 L321.31,588.85 L325.13,587.61 L328.94,588.44 L332.76,589.38 L336.57,590.67 L340.39,594.58 L344.20,598.20 L348.02,601.89 L351.83,603.44 L355.65,604.08 L359.47,605.65 L363.28,605.06 L367.10,604.20 L370.91,601.81 L374.73,599.51 L378.54,596.51 L382.36,591.55 L386.17,588.27 L389.99,585.23 L393.80,581.04 L397.62,580.45 L401.43,580.25 L405.25,580.30 L409.06,581.34 L412.88,582.76 L416.69,586.57 L420.50,591.63 L424.32,597.55 L428.13,603.14 L431.95,608.48 L435.76,613.41 L439.58,616.93 L443.39,621.32 L447.21,623.87 L451.02,622.96 L454.84,621.28 L458.66,620.12 L462.47,619.10 L466.29,618.09 L470.10,617.38 L473.92,616.61 L477.73,614.90 L481.55,613.34 L485.36,612.10 L489.18,613.00 L492.99,614.54 L496.81,614.85 L500.62,616.72 L504.44,618.17 L508.25,620.09 L512.06,622.02 L515.88,623.31 L519.69,624.88 L523.51,625.93 L527.32,626.92 L531.14,629.53 L534.95,631.92 L538.77,634.79 L542.58,636.69 L546.40,636.89 L550.21,638.45 L554.03,640.28 L557.84,643.11 L561.66,645.74 L565.47,648.28 L569.29,650.65 L573.10,652.37 L576.92,652.32 L580.73,651.42 L584.55,649.56 L588.36,648.14 L592.18,646.60 L595.99,645.86 L599.81,643.40 L603.62,639.83 L607.44,635.84 L611.25,632.48 L615.07,629.08 L618.88,626.24 L622.70,623.99 L626.51,620.67 L630.33,619.11 L634.14,617.62 L637.96,616.85 L641.77,616.11 L645.59,615.98 L649.40,615.21 L653.22,615.85 L657.03,617.79 L660.85,619.57 L664.66,619.12 L668.48,618.58 L672.29,618.39 L676.11,618.29 L679.92,619.57 L683.74,620.32 L687.55,621.63 L691.37,621.94 L695.18,621.83 L699.00,620.90 L702.81,619.94 L706.63,618.69 L710.44,617.41 L714.26,615.14 L718.07,613.46 L721.89,611.47 L725.70,609.16 L729.52,605.73 L733.33,601.84 L737.15,599.93 L740.96,597.86 L744.78,596.27 L748.59,595.14 L752.41,593.72 L756.22,591.65 L760.04,588.34 L763.85,584.00 L767.67,581.46 L771.48,579.71 L775.30,578.62 L779.11,579.17 L782.93,581.54 L786.74,586.02 L790.56,588.08 L794.38,589.90 L798.19,591.33 L802.00,592.90 L805.82,596.06 L809.63,598.20 L813.45,601.93 L817.26,606.19 L821.08,611.41 L824.89,616.75 L828.71,623.34 L832.52,629.12 L836.34,633.06 L840.15,635.48 L843.97,638.99 L847.78,643.93 L851.60,645.92 L855.41,647.93 L859.23,648.31 L863.04,649.85 L866.86,652.30 L870.67,655.11 L874.49,655.99 L878.30,655.67 L882.12,653.44 L885.93,651.11 L889.75,649.87 L893.56,648.32 L897.38,646.54 L901.19,643.18 L905.01,642.34 L908.82,641.30 L912.64,640.74 L916.45,641.04 L920.27,641.26 L924.08,639.09 L927.90,636.94 L931.71,636.39 L935.53,635.69 L939.34,635.17 L943.16,633.24 L946.97,631.14 L950.79,627.13 L954.60,624.15 L958.42,622.60 L962.23,621.32 L966.05,620.41 L969.86,617.53 L973.68,613.92 L977.49,612.27" fill="none" stroke="#fdd835" stroke-width="1.3"/>
<path d="M4.67,581.05 L8.49,585.48 L12.30,603.58 L16.12,579.66 L19.93,574.74 L23.75,591.35 L27.56,588.58 L31.38,580.67 L35.19,592.16 L39.00,585.55 L42.82,570.66 L46.64,548.60 L50.45,542.97 L54.27,544.67 L58.08,538.73 L61.89,536.19 L65.71,557.41 L69.53,553.56 L73.34,551.24 L77.16,564.42 L80.97,564.05 L84.78,571.78 L88.60,569.94 L92.41,556.27 L96.23,568.62 L100.05,572.87 L103.86,579.54 L107.67,576.89 L111.49,567.54 L115.30,582.26 L119.12,582.26 L122.94,583.18 L126.75,604.69 L130.56,623.41 L134.38,627.64 L138.19,611.59 L142.01,605.50 L145.83,612.93 L149.64,604.62 L153.46,586.12 L157.27,592.96 L161.09,594.97 L164.90,575.89 L168.72,581.84 L172.53,572.23 L176.34,556.34 L180.16,594.71 L183.98,600.34 L187.79,597.86 L191.61,598.92 L195.42,608.67 L199.24,627.12 L203.05,616.79 L206.87,626.49 L210.68,598.81 L214.50,607.03 L218.31,616.52 L222.12,631.03 L225.94,620.70 L229.75,622.89 L233.57,615.29 L237.39,633.36 L241.20,629.74 L245.02,632.42 L248.83,625.89 L252.65,613.86 L256.46,610.81 L260.27,616.12 L264.09,616.59 L267.90,618.98 L271.72,611.60 L275.54,605.45 L279.35,608.93 L283.17,591.27 L286.98,582.98 L290.80,579.96 L294.61,581.22 L298.43,586.63 L302.24,585.60 L306.06,575.49 L309.87,580.15 L313.69,575.50 L317.50,590.36 L321.31,588.75 L325.13,594.31 L328.94,617.03 L332.76,622.07 L336.57,609.31 L340.39,637.76 L344.20,630.58 L348.02,632.88 L351.83,608.42 L355.65,594.52 L359.47,597.42 L363.28,571.94 L367.10,563.38 L370.91,556.89 L374.73,556.56 L378.54,552.32 L382.36,547.67 L386.17,576.14 L389.99,566.69 L393.80,579.08 L397.62,622.43 L401.43,630.01 L405.25,609.17 L409.06,609.05 L412.88,617.33 L416.69,625.30 L420.50,634.23 L424.32,639.72 L428.13,634.77 L431.95,627.12 L435.76,616.67 L439.58,625.52 L443.39,628.15 L447.21,614.72 L451.02,609.64 L454.84,606.54 L458.66,592.88 L462.47,594.85 L466.29,603.11 L470.10,615.44 L473.92,623.34 L477.73,615.89 L481.55,612.89 L485.36,609.80 L489.18,629.18 L492.99,647.13 L496.81,632.51 L500.62,640.90 L504.44,629.88 L508.25,633.47 L512.06,619.92 L515.88,612.87 L519.69,625.13 L523.51,630.11 L527.32,637.23 L531.14,652.38 L534.95,646.44 L538.77,649.92 L542.58,655.71 L546.40,649.96 L550.21,654.43 L554.03,666.47 L557.84,669.52 L561.66,670.26 L565.47,655.53 L569.29,646.06 L573.10,649.20 L576.92,629.37 L580.73,624.59 L584.55,626.43 L588.36,626.43 L592.18,628.49 L595.99,645.28 L599.81,615.53 L603.62,604.46 L607.44,610.57 L611.25,622.54 L615.07,622.59 L618.88,615.81 L622.70,614.57 L626.51,602.73 L630.33,607.56 L634.14,603.65 L637.96,615.72 L641.77,616.10 L645.59,626.68 L649.40,634.50 L653.22,624.45 L657.03,631.52 L660.85,635.58 L664.66,616.17 L668.48,615.12 L672.29,613.12 L676.11,613.12 L679.92,620.63 L683.74,618.13 L687.55,622.03 L691.37,620.04 L695.18,614.48 L699.00,613.64 L702.81,621.14 L706.63,606.98 L710.44,613.49 L714.26,603.82 L718.07,592.72 L721.89,587.28 L725.70,580.67 L729.52,565.15 L733.33,566.14 L737.15,591.41 L740.96,593.03 L744.78,597.85 L748.59,598.57 L752.41,593.76 L756.22,592.22 L760.04,560.64 L763.85,552.68 L767.67,568.29 L771.48,568.29 L775.30,572.03 L779.11,588.29 L782.93,598.32 L786.74,628.84 L790.56,620.35 L794.38,618.47 L798.19,617.81 L802.00,620.64 L805.82,637.98 L809.63,622.14 L813.45,612.92 L817.26,612.29 L821.08,641.35 L824.89,643.09 L828.71,664.20 L832.52,669.26 L836.34,653.45 L840.15,662.73 L843.97,669.56 L847.78,687.63 L851.60,645.61 L855.41,648.86 L859.23,643.21 L863.04,643.73 L866.86,647.29 L870.67,651.54 L874.49,653.76 L878.30,638.63 L882.12,632.86 L885.93,636.72 L889.75,636.13 L893.56,640.97 L897.38,644.62 L901.19,640.65 L905.01,633.84 L908.82,634.21 L912.64,635.39 L916.45,647.99 L920.27,650.34 L924.08,621.11 L927.90,623.65 L931.71,631.04 L935.53,622.98 L939.34,629.47 L943.16,609.14 L946.97,611.55 L950.79,588.47 L954.60,598.93 L958.42,612.14 L962.23,616.33 L966.05,622.57 L969.86,607.74 L973.68,599.79 L977.49,597.98" fill="none" stroke="#7e57c2" stroke-width="2.5" stroke-linejoin="round"/>
</g>
<text x="12.1" y="543.7" font-size="10" fill="#131722" stroke="#131722" stroke-width="0.25" textLength="64.6" lengthAdjust="spacingAndGlyphs">RSI (14, close)</text>
<text x="83.7" y="543.7" font-size="10" fill="#7e57c2" stroke="#7e57c2" stroke-width="0.25" textLength="24.2" lengthAdjust="spacingAndGlyphs">51.93</text>
<text x="114.5" y="543.7" font-size="10" fill="#fdd835" stroke="#fdd835" stroke-width="0.25" textLength="24.7" lengthAdjust="spacingAndGlyphs">46.10</text>
<text x="1081.7" y="581.1" font-size="10" fill="#131722" stroke="#131722" stroke-width="0.25" textLength="25" lengthAdjust="spacingAndGlyphs">60.00</text>
<text x="1081.7" y="631.5" font-size="10" fill="#131722" stroke="#131722" stroke-width="0.25" textLength="25" lengthAdjust="spacingAndGlyphs">40.00</text>
<text x="1081.7" y="681.8" font-size="10" fill="#131722" stroke="#131722" stroke-width="0.25" textLength="25" lengthAdjust="spacingAndGlyphs">20.00</text>
<path d="M1074,591.1 H1055.3 Q1053.3,591.1 1053.3,593.1 V602.7 Q1053.3,604.7 1055.3,604.7 H1074 Z" fill="#7e57c2"/>
<text x="1057.7" y="601.5" font-size="10" fill="#fff" stroke="#fff" stroke-width="0.25" textLength="13.2" lengthAdjust="spacingAndGlyphs">RSI</text>
<path d="M1075.2,591.1 H1109.6 Q1111.6,591.1 1111.6,593.1 V602.7 Q1111.6,604.7 1109.6,604.7 H1075.2 Z" fill="#7e57c2"/>
<text x="1082" y="601.5" font-size="10" fill="#fff" stroke="#fff" stroke-width="0.25" textLength="24.8" lengthAdjust="spacingAndGlyphs">51.93</text>
<path d="M1074,605.4 H1009.3 Q1007.3,605.4 1007.3,607.4 V617.3 Q1007.3,619.3 1009.3,619.3 H1074 Z" fill="#fdd835"/>
<text x="1011.5" y="615.9" font-size="10" fill="#131722" stroke="#131722" stroke-width="0.25" textLength="59.6" lengthAdjust="spacingAndGlyphs">RSI-based MA</text>
<path d="M1075.2,605.4 H1109.6 Q1111.6,605.4 1111.6,607.4 V617.3 Q1111.6,619.3 1109.6,619.3 H1075.2 Z" fill="#fdd835"/>
<text x="1082" y="615.9" font-size="10" fill="#131722" stroke="#131722" stroke-width="0.25" textLength="24.8" lengthAdjust="spacingAndGlyphs">46.10</text>
<text x="12.3" y="712.6" font-size="10" fill="#131722" stroke="#131722" stroke-width="0.25" text-anchor="middle">Jul</text>
<text x="130.6" y="712.6" font-size="10" fill="#131722" stroke="#131722" stroke-width="0.25" text-anchor="middle">Aug</text>
<text x="248.8" y="712.6" font-size="10" fill="#131722" stroke="#131722" stroke-width="0.25" text-anchor="middle">Sep</text>
<text x="363.3" y="712.6" font-size="10" fill="#131722" stroke="#131722" stroke-width="0.25" text-anchor="middle">Oct</text>
<text x="481.5" y="712.6" font-size="10" fill="#131722" stroke="#131722" stroke-width="0.25" text-anchor="middle">Nov</text>
<text x="596.0" y="712.6" font-size="10" fill="#131722" stroke="#131722" stroke-width="0.25" text-anchor="middle">Dec</text>
<text x="714.3" y="712.6" font-size="10" fill="#131722" stroke="#131722" stroke-width="0.6" text-anchor="middle">2026</text>
<text x="832.5" y="712.6" font-size="10" fill="#131722" stroke="#131722" stroke-width="0.25" text-anchor="middle">Feb</text>
<text x="939.3" y="712.6" font-size="10" fill="#131722" stroke="#131722" stroke-width="0.25" text-anchor="middle">Mar</text>
<text x="1057.6" y="712.6" font-size="10" fill="#131722" stroke="#131722" stroke-width="0.25" text-anchor="middle">Apr</text>
<g fill="#0f0f0f"><path d="M7.1,740 H17 V752.2 H12.2 V744.5 H7.1 Z"/><circle cx="21.4" cy="742.3" r="2.35"/><path d="M26.8,740 H32.1 L27.5,752.2 H22.1 Z"/></g>
<text x="38.5" y="752.4" font-size="18.4" fill="#0f0f0f" stroke="#0f0f0f" stroke-width="0.25" textLength="102" lengthAdjust="spacingAndGlyphs" font-weight="bold">TradingView</text>
</svg></body></html>
